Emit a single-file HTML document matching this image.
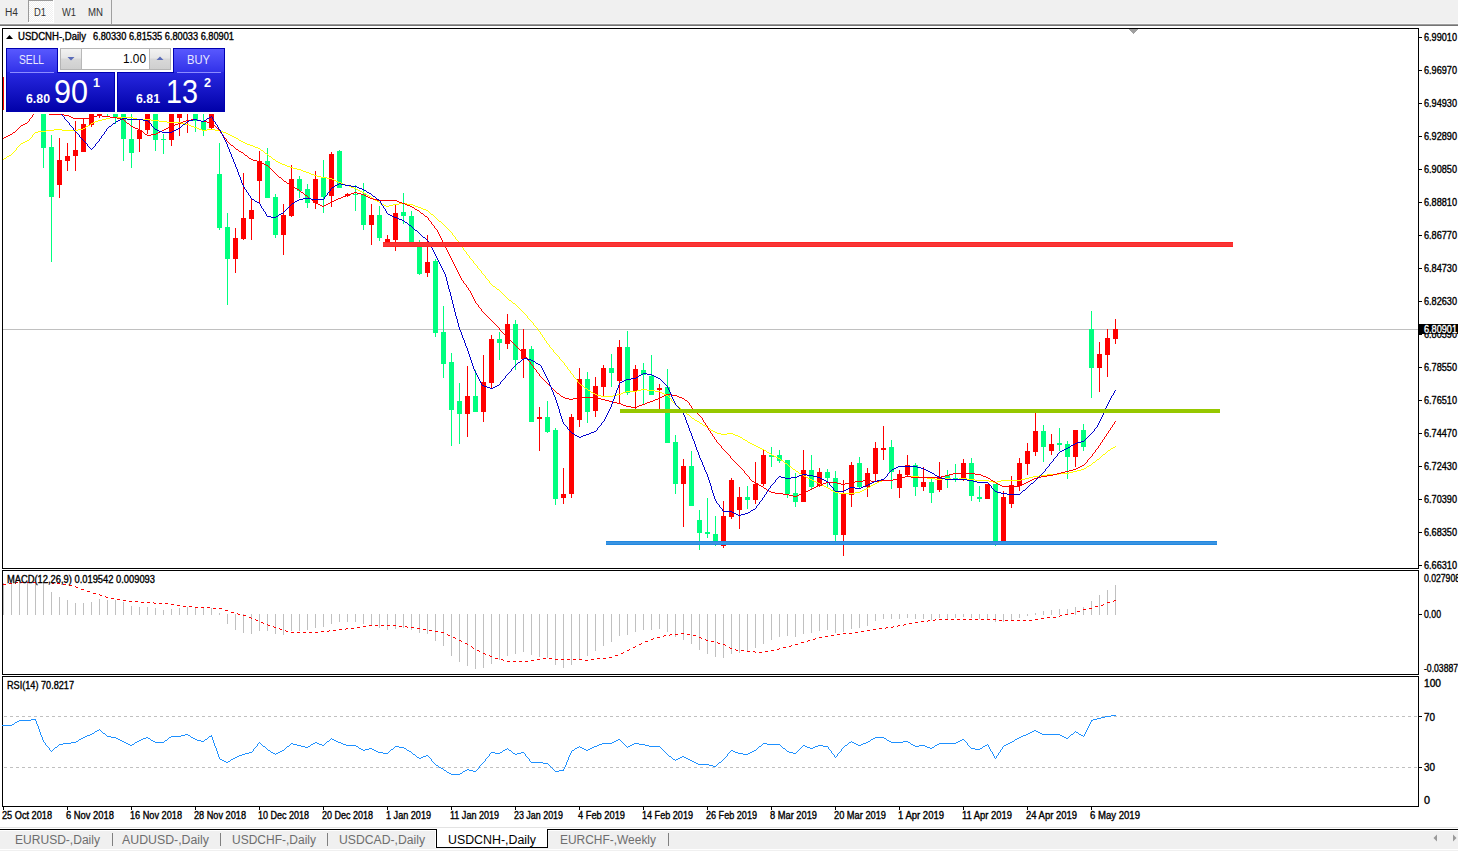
<!DOCTYPE html><html><head><meta charset="utf-8"><style>html,body{margin:0;padding:0;width:1458px;height:851px;overflow:hidden;background:#F0F0F0}</style></head><body><svg width="1458" height="851" viewBox="0 0 1458 851" style="display:block;font-family:'Liberation Sans', sans-serif">
<rect x="0" y="0" width="1458" height="851" fill="#F0F0F0" />
<rect x="0" y="23" width="1458" height="1" fill="#F6F6F6" />
<rect x="0" y="24" width="1458" height="1" fill="#9C9C9C" />
<rect x="0" y="25" width="1458" height="1" fill="#747474" />
<rect x="0" y="26" width="1458" height="801" fill="#FFFFFF" />
<rect x="0" y="827" width="1458" height="1" fill="#E3E3E3" />
<rect x="0" y="828" width="1458" height="1" fill="#FFFFFF" />
<rect x="0" y="829" width="1458" height="1" fill="#000000" />
<rect x="0" y="830" width="1458" height="1" fill="#FFFFFF" />
<rect x="0" y="849" width="1458" height="1" fill="#FFFFFF" />
<defs><pattern id="chk" width="2" height="2" patternUnits="userSpaceOnUse"><rect width="2" height="2" fill="#F0F0F0"/><rect width="1" height="1" fill="#FFFFFF"/><rect x="1" y="1" width="1" height="1" fill="#FFFFFF"/></pattern></defs>
<rect x="28" y="0" width="26" height="23" fill="#FFFFFF" />
<rect x="29" y="1" width="24" height="21" fill="url(#chk)" />
<rect x="28" y="0" width="1" height="22" fill="#9A9A9A" />
<rect x="28" y="0" width="25" height="1" fill="#9A9A9A" />
<rect x="111" y="0" width="1" height="24" fill="#A0A0A0" />
<text x="5" y="16" font-size="10" fill="#333" font-weight="normal" text-anchor="start" textLength="13" lengthAdjust="spacingAndGlyphs" >H4</text>
<text x="34" y="16" font-size="10" fill="#333" font-weight="normal" text-anchor="start" textLength="12" lengthAdjust="spacingAndGlyphs" >D1</text>
<text x="62" y="16" font-size="10" fill="#333" font-weight="normal" text-anchor="start" textLength="14" lengthAdjust="spacingAndGlyphs" >W1</text>
<text x="88" y="16" font-size="10" fill="#333" font-weight="normal" text-anchor="start" textLength="15" lengthAdjust="spacingAndGlyphs" >MN</text>
<g shape-rendering="crispEdges">
<rect x="2" y="28" width="1417" height="1" fill="#000" />
<rect x="2" y="568" width="1417" height="1" fill="#000" />
<rect x="2" y="28" width="1" height="541" fill="#000" />
<rect x="1418" y="28" width="1" height="541" fill="#000" />
<rect x="2" y="570" width="1417" height="1" fill="#000" />
<rect x="2" y="674" width="1417" height="1" fill="#000" />
<rect x="2" y="570" width="1" height="105" fill="#000" />
<rect x="1418" y="570" width="1" height="105" fill="#000" />
<rect x="2" y="676" width="1417" height="1" fill="#000" />
<rect x="2" y="806" width="1417" height="1" fill="#000" />
<rect x="2" y="676" width="1" height="131" fill="#000" />
<rect x="1418" y="676" width="1" height="131" fill="#000" />
<polygon points="1129,29 1138,29 1133.5,34" fill="#A0A0A0"/>
<rect x="1419" y="37" width="3" height="1" fill="#000" />
<text x="1424" y="41" font-size="10" fill="#000" font-weight="normal" text-anchor="start" textLength="33" lengthAdjust="spacingAndGlyphs"  stroke="#000" stroke-width="0.35">6.99010</text>
<rect x="1419" y="70" width="3" height="1" fill="#000" />
<text x="1424" y="74" font-size="10" fill="#000" font-weight="normal" text-anchor="start" textLength="33" lengthAdjust="spacingAndGlyphs"  stroke="#000" stroke-width="0.35">6.96970</text>
<rect x="1419" y="103" width="3" height="1" fill="#000" />
<text x="1424" y="107" font-size="10" fill="#000" font-weight="normal" text-anchor="start" textLength="33" lengthAdjust="spacingAndGlyphs"  stroke="#000" stroke-width="0.35">6.94930</text>
<rect x="1419" y="136" width="3" height="1" fill="#000" />
<text x="1424" y="140" font-size="10" fill="#000" font-weight="normal" text-anchor="start" textLength="33" lengthAdjust="spacingAndGlyphs"  stroke="#000" stroke-width="0.35">6.92890</text>
<rect x="1419" y="169" width="3" height="1" fill="#000" />
<text x="1424" y="173" font-size="10" fill="#000" font-weight="normal" text-anchor="start" textLength="33" lengthAdjust="spacingAndGlyphs"  stroke="#000" stroke-width="0.35">6.90850</text>
<rect x="1419" y="202" width="3" height="1" fill="#000" />
<text x="1424" y="206" font-size="10" fill="#000" font-weight="normal" text-anchor="start" textLength="33" lengthAdjust="spacingAndGlyphs"  stroke="#000" stroke-width="0.35">6.88810</text>
<rect x="1419" y="235" width="3" height="1" fill="#000" />
<text x="1424" y="239" font-size="10" fill="#000" font-weight="normal" text-anchor="start" textLength="33" lengthAdjust="spacingAndGlyphs"  stroke="#000" stroke-width="0.35">6.86770</text>
<rect x="1419" y="268" width="3" height="1" fill="#000" />
<text x="1424" y="272" font-size="10" fill="#000" font-weight="normal" text-anchor="start" textLength="33" lengthAdjust="spacingAndGlyphs"  stroke="#000" stroke-width="0.35">6.84730</text>
<rect x="1419" y="301" width="3" height="1" fill="#000" />
<text x="1424" y="305" font-size="10" fill="#000" font-weight="normal" text-anchor="start" textLength="33" lengthAdjust="spacingAndGlyphs"  stroke="#000" stroke-width="0.35">6.82630</text>
<rect x="1419" y="334" width="3" height="1" fill="#000" />
<text x="1424" y="338" font-size="10" fill="#000" font-weight="normal" text-anchor="start" textLength="33" lengthAdjust="spacingAndGlyphs"  stroke="#000" stroke-width="0.35">6.80590</text>
<rect x="1419" y="367" width="3" height="1" fill="#000" />
<text x="1424" y="371" font-size="10" fill="#000" font-weight="normal" text-anchor="start" textLength="33" lengthAdjust="spacingAndGlyphs"  stroke="#000" stroke-width="0.35">6.78550</text>
<rect x="1419" y="400" width="3" height="1" fill="#000" />
<text x="1424" y="404" font-size="10" fill="#000" font-weight="normal" text-anchor="start" textLength="33" lengthAdjust="spacingAndGlyphs"  stroke="#000" stroke-width="0.35">6.76510</text>
<rect x="1419" y="433" width="3" height="1" fill="#000" />
<text x="1424" y="437" font-size="10" fill="#000" font-weight="normal" text-anchor="start" textLength="33" lengthAdjust="spacingAndGlyphs"  stroke="#000" stroke-width="0.35">6.74470</text>
<rect x="1419" y="466" width="3" height="1" fill="#000" />
<text x="1424" y="470" font-size="10" fill="#000" font-weight="normal" text-anchor="start" textLength="33" lengthAdjust="spacingAndGlyphs"  stroke="#000" stroke-width="0.35">6.72430</text>
<rect x="1419" y="499" width="3" height="1" fill="#000" />
<text x="1424" y="503" font-size="10" fill="#000" font-weight="normal" text-anchor="start" textLength="33" lengthAdjust="spacingAndGlyphs"  stroke="#000" stroke-width="0.35">6.70390</text>
<rect x="1419" y="532" width="3" height="1" fill="#000" />
<text x="1424" y="536" font-size="10" fill="#000" font-weight="normal" text-anchor="start" textLength="33" lengthAdjust="spacingAndGlyphs"  stroke="#000" stroke-width="0.35">6.68350</text>
<rect x="1419" y="565" width="3" height="1" fill="#000" />
<text x="1424" y="569" font-size="10" fill="#000" font-weight="normal" text-anchor="start" textLength="33" lengthAdjust="spacingAndGlyphs"  stroke="#000" stroke-width="0.35">6.66310</text>
<rect x="3" y="329" width="1415" height="1" fill="#C0C0C0" />
<clipPath id="mc"><rect x="3" y="29" width="1415" height="539"/></clipPath>
<g clip-path="url(#mc)">
<rect x="3" y="77" width="1" height="33" fill="#FF0000" />
<rect x="43" y="100" width="1" height="68" fill="#00FF7F" />
<rect x="41" y="100" width="5" height="48" fill="#00FF7F" />
<rect x="51" y="135" width="1" height="127" fill="#00FF7F" />
<rect x="49" y="147" width="5" height="50" fill="#00FF7F" />
<rect x="59" y="138" width="1" height="60" fill="#FF0000" />
<rect x="57" y="160" width="5" height="25" fill="#FF0000" />
<rect x="67" y="143" width="1" height="28" fill="#FF0000" />
<rect x="65" y="156" width="5" height="5" fill="#FF0000" />
<rect x="75" y="121" width="1" height="50" fill="#FF0000" />
<rect x="73" y="150" width="5" height="6" fill="#FF0000" />
<rect x="83" y="118" width="1" height="34" fill="#FF0000" />
<rect x="81" y="124" width="5" height="28" fill="#FF0000" />
<rect x="91" y="100" width="1" height="27" fill="#FF0000" />
<rect x="89" y="100" width="5" height="25" fill="#FF0000" />
<rect x="99" y="113" width="1" height="5" fill="#FF0000" />
<rect x="97" y="114" width="5" height="2" fill="#FF0000" />
<rect x="107" y="100" width="1" height="17" fill="#00FF7F" />
<rect x="105" y="100" width="5" height="12" fill="#00FF7F" />
<rect x="115" y="100" width="1" height="24" fill="#00FF7F" />
<rect x="113" y="100" width="5" height="17" fill="#00FF7F" />
<rect x="123" y="100" width="1" height="61" fill="#00FF7F" />
<rect x="121" y="100" width="5" height="39" fill="#00FF7F" />
<rect x="131" y="100" width="1" height="68" fill="#00FF7F" />
<rect x="129" y="139" width="5" height="14" fill="#00FF7F" />
<rect x="139" y="120" width="1" height="32" fill="#FF0000" />
<rect x="137" y="130" width="5" height="9" fill="#FF0000" />
<rect x="147" y="100" width="1" height="34" fill="#FF0000" />
<rect x="145" y="100" width="5" height="30" fill="#FF0000" />
<rect x="155" y="100" width="1" height="51" fill="#00FF7F" />
<rect x="153" y="100" width="5" height="40" fill="#00FF7F" />
<rect x="163" y="134" width="1" height="20" fill="#00FF7F" />
<rect x="161" y="139" width="5" height="1" fill="#00FF7F" />
<rect x="171" y="100" width="1" height="46" fill="#FF0000" />
<rect x="169" y="100" width="5" height="40" fill="#FF0000" />
<rect x="179" y="100" width="1" height="36" fill="#FF0000" />
<rect x="177" y="100" width="5" height="18" fill="#FF0000" />
<rect x="187" y="100" width="1" height="33" fill="#FF0000" />
<rect x="185" y="100" width="5" height="12" fill="#FF0000" />
<rect x="195" y="100" width="1" height="32" fill="#00FF7F" />
<rect x="193" y="100" width="5" height="21" fill="#00FF7F" />
<rect x="203" y="100" width="1" height="36" fill="#00FF7F" />
<rect x="201" y="122" width="5" height="8" fill="#00FF7F" />
<rect x="211" y="100" width="1" height="30" fill="#FF0000" />
<rect x="209" y="100" width="5" height="28" fill="#FF0000" />
<rect x="219" y="143" width="1" height="87" fill="#00FF7F" />
<rect x="217" y="174" width="5" height="54" fill="#00FF7F" />
<rect x="227" y="213" width="1" height="92" fill="#00FF7F" />
<rect x="225" y="227" width="5" height="32" fill="#00FF7F" />
<rect x="235" y="228" width="1" height="45" fill="#FF0000" />
<rect x="233" y="238" width="5" height="21" fill="#FF0000" />
<rect x="243" y="173" width="1" height="67" fill="#FF0000" />
<rect x="241" y="218" width="5" height="21" fill="#FF0000" />
<rect x="251" y="199" width="1" height="41" fill="#FF0000" />
<rect x="249" y="210" width="5" height="9" fill="#FF0000" />
<rect x="259" y="151" width="1" height="52" fill="#FF0000" />
<rect x="257" y="161" width="5" height="20" fill="#FF0000" />
<rect x="267" y="148" width="1" height="50" fill="#00FF7F" />
<rect x="265" y="161" width="5" height="37" fill="#00FF7F" />
<rect x="275" y="194" width="1" height="44" fill="#00FF7F" />
<rect x="273" y="197" width="5" height="38" fill="#00FF7F" />
<rect x="283" y="204" width="1" height="51" fill="#FF0000" />
<rect x="281" y="215" width="5" height="20" fill="#FF0000" />
<rect x="291" y="165" width="1" height="52" fill="#FF0000" />
<rect x="289" y="179" width="5" height="37" fill="#FF0000" />
<rect x="299" y="176" width="1" height="22" fill="#00FF7F" />
<rect x="297" y="179" width="5" height="12" fill="#00FF7F" />
<rect x="307" y="184" width="1" height="24" fill="#00FF7F" />
<rect x="305" y="189" width="5" height="14" fill="#00FF7F" />
<rect x="315" y="171" width="1" height="38" fill="#FF0000" />
<rect x="313" y="179" width="5" height="24" fill="#FF0000" />
<rect x="323" y="160" width="1" height="53" fill="#00FF7F" />
<rect x="321" y="178" width="5" height="19" fill="#00FF7F" />
<rect x="331" y="152" width="1" height="55" fill="#FF0000" />
<rect x="329" y="154" width="5" height="42" fill="#FF0000" />
<rect x="339" y="150" width="1" height="38" fill="#00FF7F" />
<rect x="337" y="151" width="5" height="37" fill="#00FF7F" />
<rect x="347" y="193" width="1" height="4" fill="#FF0000" />
<rect x="345" y="194" width="5" height="2" fill="#FF0000" />
<rect x="355" y="185" width="1" height="26" fill="#00FF7F" />
<rect x="353" y="194" width="5" height="1" fill="#00FF7F" />
<rect x="363" y="183" width="1" height="47" fill="#00FF7F" />
<rect x="361" y="194" width="5" height="31" fill="#00FF7F" />
<rect x="371" y="204" width="1" height="41" fill="#FF0000" />
<rect x="369" y="215" width="5" height="10" fill="#FF0000" />
<rect x="379" y="206" width="1" height="35" fill="#00FF7F" />
<rect x="377" y="215" width="5" height="23" fill="#00FF7F" />
<rect x="387" y="235" width="1" height="12" fill="#FF0000" />
<rect x="385" y="239" width="5" height="6" fill="#FF0000" />
<rect x="395" y="205" width="1" height="46" fill="#FF0000" />
<rect x="393" y="213" width="5" height="27" fill="#FF0000" />
<rect x="403" y="193" width="1" height="31" fill="#00FF7F" />
<rect x="401" y="212" width="5" height="4" fill="#00FF7F" />
<rect x="411" y="211" width="1" height="34" fill="#00FF7F" />
<rect x="409" y="216" width="5" height="27" fill="#00FF7F" />
<rect x="419" y="240" width="1" height="35" fill="#00FF7F" />
<rect x="417" y="247" width="5" height="27" fill="#00FF7F" />
<rect x="427" y="235" width="1" height="42" fill="#FF0000" />
<rect x="425" y="262" width="5" height="11" fill="#FF0000" />
<rect x="435" y="259" width="1" height="78" fill="#00FF7F" />
<rect x="433" y="261" width="5" height="72" fill="#00FF7F" />
<rect x="443" y="306" width="1" height="72" fill="#00FF7F" />
<rect x="441" y="332" width="5" height="32" fill="#00FF7F" />
<rect x="451" y="353" width="1" height="93" fill="#00FF7F" />
<rect x="449" y="362" width="5" height="48" fill="#00FF7F" />
<rect x="459" y="383" width="1" height="61" fill="#00FF7F" />
<rect x="457" y="401" width="5" height="13" fill="#00FF7F" />
<rect x="467" y="366" width="1" height="71" fill="#FF0000" />
<rect x="465" y="396" width="5" height="18" fill="#FF0000" />
<rect x="475" y="370" width="1" height="42" fill="#00FF7F" />
<rect x="473" y="396" width="5" height="16" fill="#00FF7F" />
<rect x="483" y="355" width="1" height="67" fill="#FF0000" />
<rect x="481" y="382" width="5" height="30" fill="#FF0000" />
<rect x="491" y="335" width="1" height="53" fill="#FF0000" />
<rect x="489" y="339" width="5" height="44" fill="#FF0000" />
<rect x="499" y="332" width="1" height="28" fill="#00FF7F" />
<rect x="497" y="339" width="5" height="4" fill="#00FF7F" />
<rect x="507" y="314" width="1" height="35" fill="#FF0000" />
<rect x="505" y="324" width="5" height="20" fill="#FF0000" />
<rect x="515" y="320" width="1" height="50" fill="#00FF7F" />
<rect x="513" y="324" width="5" height="36" fill="#00FF7F" />
<rect x="523" y="329" width="1" height="49" fill="#FF0000" />
<rect x="521" y="349" width="5" height="10" fill="#FF0000" />
<rect x="531" y="346" width="1" height="76" fill="#00FF7F" />
<rect x="529" y="349" width="5" height="73" fill="#00FF7F" />
<rect x="539" y="407" width="1" height="44" fill="#FF0000" />
<rect x="537" y="417" width="5" height="2" fill="#FF0000" />
<rect x="547" y="401" width="1" height="32" fill="#00FF7F" />
<rect x="545" y="417" width="5" height="15" fill="#00FF7F" />
<rect x="555" y="428" width="1" height="77" fill="#00FF7F" />
<rect x="553" y="430" width="5" height="69" fill="#00FF7F" />
<rect x="563" y="468" width="1" height="36" fill="#FF0000" />
<rect x="561" y="494" width="5" height="4" fill="#FF0000" />
<rect x="571" y="414" width="1" height="84" fill="#FF0000" />
<rect x="569" y="417" width="5" height="77" fill="#FF0000" />
<rect x="579" y="368" width="1" height="59" fill="#FF0000" />
<rect x="577" y="379" width="5" height="41" fill="#FF0000" />
<rect x="587" y="372" width="1" height="51" fill="#00FF7F" />
<rect x="585" y="379" width="5" height="33" fill="#00FF7F" />
<rect x="595" y="377" width="1" height="40" fill="#FF0000" />
<rect x="593" y="386" width="5" height="25" fill="#FF0000" />
<rect x="603" y="365" width="1" height="31" fill="#FF0000" />
<rect x="601" y="368" width="5" height="19" fill="#FF0000" />
<rect x="611" y="354" width="1" height="33" fill="#00FF7F" />
<rect x="609" y="368" width="5" height="5" fill="#00FF7F" />
<rect x="619" y="340" width="1" height="64" fill="#FF0000" />
<rect x="617" y="347" width="5" height="34" fill="#FF0000" />
<rect x="627" y="331" width="1" height="64" fill="#00FF7F" />
<rect x="625" y="347" width="5" height="46" fill="#00FF7F" />
<rect x="635" y="365" width="1" height="44" fill="#FF0000" />
<rect x="633" y="369" width="5" height="22" fill="#FF0000" />
<rect x="643" y="363" width="1" height="42" fill="#00FF7F" />
<rect x="641" y="370" width="5" height="5" fill="#00FF7F" />
<rect x="651" y="355" width="1" height="40" fill="#00FF7F" />
<rect x="649" y="376" width="5" height="19" fill="#00FF7F" />
<rect x="659" y="384" width="1" height="25" fill="#FF0000" />
<rect x="657" y="388" width="5" height="2" fill="#FF0000" />
<rect x="667" y="369" width="1" height="74" fill="#00FF7F" />
<rect x="665" y="387" width="5" height="56" fill="#00FF7F" />
<rect x="675" y="435" width="1" height="59" fill="#00FF7F" />
<rect x="673" y="442" width="5" height="42" fill="#00FF7F" />
<rect x="683" y="459" width="1" height="68" fill="#FF0000" />
<rect x="681" y="466" width="5" height="18" fill="#FF0000" />
<rect x="691" y="451" width="1" height="55" fill="#00FF7F" />
<rect x="689" y="466" width="5" height="40" fill="#00FF7F" />
<rect x="699" y="510" width="1" height="40" fill="#00FF7F" />
<rect x="697" y="520" width="5" height="13" fill="#00FF7F" />
<rect x="707" y="498" width="1" height="40" fill="#00FF7F" />
<rect x="705" y="532" width="5" height="2" fill="#00FF7F" />
<rect x="715" y="516" width="1" height="30" fill="#00FF7F" />
<rect x="713" y="534" width="5" height="7" fill="#00FF7F" />
<rect x="723" y="501" width="1" height="47" fill="#FF0000" />
<rect x="721" y="516" width="5" height="30" fill="#FF0000" />
<rect x="731" y="478" width="1" height="41" fill="#FF0000" />
<rect x="729" y="480" width="5" height="37" fill="#FF0000" />
<rect x="739" y="487" width="1" height="42" fill="#FF0000" />
<rect x="737" y="497" width="5" height="13" fill="#FF0000" />
<rect x="747" y="486" width="1" height="23" fill="#00FF7F" />
<rect x="745" y="497" width="5" height="3" fill="#00FF7F" />
<rect x="755" y="462" width="1" height="42" fill="#FF0000" />
<rect x="753" y="484" width="5" height="16" fill="#FF0000" />
<rect x="763" y="450" width="1" height="36" fill="#FF0000" />
<rect x="761" y="455" width="5" height="29" fill="#FF0000" />
<rect x="771" y="447" width="1" height="20" fill="#00FF7F" />
<rect x="769" y="455" width="5" height="2" fill="#00FF7F" />
<rect x="779" y="450" width="1" height="13" fill="#00FF7F" />
<rect x="777" y="455" width="5" height="6" fill="#00FF7F" />
<rect x="787" y="460" width="1" height="38" fill="#00FF7F" />
<rect x="785" y="460" width="5" height="34" fill="#00FF7F" />
<rect x="795" y="473" width="1" height="34" fill="#00FF7F" />
<rect x="793" y="493" width="5" height="9" fill="#00FF7F" />
<rect x="803" y="450" width="1" height="52" fill="#FF0000" />
<rect x="801" y="470" width="5" height="32" fill="#FF0000" />
<rect x="811" y="455" width="1" height="35" fill="#00FF7F" />
<rect x="809" y="470" width="5" height="17" fill="#00FF7F" />
<rect x="819" y="468" width="1" height="19" fill="#FF0000" />
<rect x="817" y="472" width="5" height="14" fill="#FF0000" />
<rect x="827" y="469" width="1" height="19" fill="#00FF7F" />
<rect x="825" y="472" width="5" height="6" fill="#00FF7F" />
<rect x="835" y="471" width="1" height="70" fill="#00FF7F" />
<rect x="833" y="478" width="5" height="57" fill="#00FF7F" />
<rect x="843" y="480" width="1" height="76" fill="#FF0000" />
<rect x="841" y="493" width="5" height="42" fill="#FF0000" />
<rect x="851" y="462" width="1" height="45" fill="#FF0000" />
<rect x="849" y="465" width="5" height="30" fill="#FF0000" />
<rect x="859" y="457" width="1" height="31" fill="#00FF7F" />
<rect x="857" y="463" width="5" height="24" fill="#00FF7F" />
<rect x="867" y="468" width="1" height="29" fill="#FF0000" />
<rect x="865" y="473" width="5" height="14" fill="#FF0000" />
<rect x="875" y="442" width="1" height="39" fill="#FF0000" />
<rect x="873" y="448" width="5" height="26" fill="#FF0000" />
<rect x="883" y="426" width="1" height="34" fill="#FF0000" />
<rect x="881" y="448" width="5" height="2" fill="#FF0000" />
<rect x="891" y="440" width="1" height="49" fill="#00FF7F" />
<rect x="889" y="447" width="5" height="25" fill="#00FF7F" />
<rect x="899" y="470" width="1" height="28" fill="#FF0000" />
<rect x="897" y="474" width="5" height="14" fill="#FF0000" />
<rect x="907" y="455" width="1" height="21" fill="#FF0000" />
<rect x="905" y="465" width="5" height="10" fill="#FF0000" />
<rect x="915" y="463" width="1" height="33" fill="#00FF7F" />
<rect x="913" y="465" width="5" height="22" fill="#00FF7F" />
<rect x="923" y="467" width="1" height="24" fill="#FF0000" />
<rect x="921" y="482" width="5" height="5" fill="#FF0000" />
<rect x="931" y="479" width="1" height="24" fill="#00FF7F" />
<rect x="929" y="482" width="5" height="11" fill="#00FF7F" />
<rect x="939" y="462" width="1" height="30" fill="#FF0000" />
<rect x="937" y="477" width="5" height="13" fill="#FF0000" />
<rect x="947" y="470" width="1" height="18" fill="#00FF7F" />
<rect x="945" y="475" width="5" height="4" fill="#00FF7F" />
<rect x="955" y="464" width="1" height="18" fill="#00FF7F" />
<rect x="953" y="478" width="5" height="1" fill="#00FF7F" />
<rect x="963" y="459" width="1" height="22" fill="#FF0000" />
<rect x="961" y="463" width="5" height="17" fill="#FF0000" />
<rect x="971" y="458" width="1" height="43" fill="#00FF7F" />
<rect x="969" y="463" width="5" height="33" fill="#00FF7F" />
<rect x="979" y="486" width="1" height="16" fill="#00FF7F" />
<rect x="977" y="497" width="5" height="2" fill="#00FF7F" />
<rect x="987" y="484" width="1" height="15" fill="#FF0000" />
<rect x="985" y="484" width="5" height="15" fill="#FF0000" />
<rect x="995" y="484" width="1" height="62" fill="#00FF7F" />
<rect x="993" y="484" width="5" height="57" fill="#00FF7F" />
<rect x="1003" y="491" width="1" height="50" fill="#FF0000" />
<rect x="1001" y="497" width="5" height="44" fill="#FF0000" />
<rect x="1011" y="476" width="1" height="32" fill="#FF0000" />
<rect x="1009" y="485" width="5" height="19" fill="#FF0000" />
<rect x="1019" y="458" width="1" height="33" fill="#FF0000" />
<rect x="1017" y="463" width="5" height="23" fill="#FF0000" />
<rect x="1027" y="443" width="1" height="32" fill="#FF0000" />
<rect x="1025" y="451" width="5" height="13" fill="#FF0000" />
<rect x="1035" y="413" width="1" height="43" fill="#FF0000" />
<rect x="1033" y="431" width="5" height="21" fill="#FF0000" />
<rect x="1043" y="425" width="1" height="37" fill="#00FF7F" />
<rect x="1041" y="431" width="5" height="16" fill="#00FF7F" />
<rect x="1051" y="434" width="1" height="21" fill="#FF0000" />
<rect x="1049" y="444" width="5" height="7" fill="#FF0000" />
<rect x="1059" y="428" width="1" height="23" fill="#00FF7F" />
<rect x="1057" y="443" width="5" height="2" fill="#00FF7F" />
<rect x="1067" y="441" width="1" height="38" fill="#00FF7F" />
<rect x="1065" y="444" width="5" height="13" fill="#00FF7F" />
<rect x="1075" y="430" width="1" height="37" fill="#FF0000" />
<rect x="1073" y="430" width="5" height="27" fill="#FF0000" />
<rect x="1083" y="424" width="1" height="27" fill="#00FF7F" />
<rect x="1081" y="430" width="5" height="17" fill="#00FF7F" />
<rect x="1091" y="311" width="1" height="87" fill="#00FF7F" />
<rect x="1089" y="329" width="5" height="39" fill="#00FF7F" />
<rect x="1099" y="342" width="1" height="50" fill="#FF0000" />
<rect x="1097" y="354" width="5" height="14" fill="#FF0000" />
<rect x="1107" y="329" width="1" height="48" fill="#FF0000" />
<rect x="1105" y="338" width="5" height="17" fill="#FF0000" />
<rect x="1115" y="319" width="1" height="25" fill="#FF0000" />
<rect x="1113" y="329" width="5" height="10" fill="#FF0000" />
</g>
</g>
<g clip-path="url(#mc)">
<path d="M590,391h1v1h-1zM626,391h11v1h-11zM655,391h5v1h-5zM86,126h2v1h-2zM191,126h3v1h-3zM804,476h2v1h-2zM905,476h14v1h-14zM1033,476h6v1h-6zM781,460h2v1h-2zM1096,460h1v1h-1zM282,164h3v1h-3zM577,380h1v1h-1zM110,117h23v1h-23zM102,119h4v1h-4zM137,119h14v1h-14zM597,395h4v1h-4zM613,395h4v1h-4zM666,395h2v1h-2zM95,121h3v1h-3zM159,121h8v1h-8zM46,130h8v1h-8zM62,130h16v1h-16zM202,130h5v1h-5zM215,130h6v1h-6zM3,159h1v1h-1zM273,159h2v1h-2zM527,317h1v1h-1zM812,480h2v1h-2zM882,480h11v1h-11zM975,480h14v1h-14zM1001,480h20v1h-20zM98,120h4v1h-4zM151,120h8v1h-8zM93,122h2v1h-2zM167,122h14v1h-14zM601,396h12v1h-12zM668,396h1v1h-1zM810,479h2v1h-2zM893,479h4v1h-4zM935,479h8v1h-8zM951,479h8v1h-8zM967,479h8v1h-8zM1021,479h4v1h-4zM591,392h2v1h-2zM623,392h3v1h-3zM660,392h2v1h-2zM788,465h1v1h-1zM1089,465h2v1h-2zM501,292h1v1h-1zM7,156h2v1h-2zM269,156h2v1h-2zM595,394h2v1h-2zM617,394h4v1h-4zM664,394h2v1h-2zM808,478h2v1h-2zM897,478h4v1h-4zM927,478h8v1h-8zM943,478h8v1h-8zM959,478h8v1h-8zM1025,478h4v1h-4zM321,177h6v1h-6zM4,158h2v1h-2zM272,158h1v1h-1zM593,393h2v1h-2zM621,393h2v1h-2zM662,393h2v1h-2zM54,129h8v1h-8zM78,129h5v1h-5zM199,129h3v1h-3zM207,129h8v1h-8zM534,325h1v1h-1zM384,205h2v1h-2zM389,205h4v1h-4zM413,205h2v1h-2zM386,206h3v1h-3zM415,206h3v1h-3zM566,366h1v1h-1zM803,475h1v1h-1zM1039,475h8v1h-8zM717,433h4v1h-4zM727,433h6v1h-6zM430,213h1v1h-1zM293,168h4v1h-4zM34,133h1v1h-1zM226,133h2v1h-2zM567,367h1v1h-1zM818,483h2v1h-2zM875,483h2v1h-2zM721,434h6v1h-6zM733,434h2v1h-2zM570,372h1v1h-1zM508,299h1v1h-1zM705,426h2v1h-2zM471,259h1v1h-1zM828,488h2v1h-2zM866,488h2v1h-2zM519,308h1v1h-1zM548,344h1v1h-1zM839,493h16v1h-16zM771,454h1v1h-1zM1103,454h2v1h-2zM297,169h4v1h-4zM795,470h1v1h-1zM1077,470h4v1h-4zM423,209h3v1h-3zM822,485h2v1h-2zM871,485h2v1h-2zM756,446h2v1h-2zM1115,446h1v1h-1zM91,123h2v1h-2zM181,123h4v1h-4zM380,203h2v1h-2zM399,203h8v1h-8zM776,457h2v1h-2zM1100,457h1v1h-1zM835,492h4v1h-4zM855,492h5v1h-5zM9,155h2v1h-2zM268,155h1v1h-1zM83,128h2v1h-2zM197,128h2v1h-2zM820,484h2v1h-2zM873,484h2v1h-2zM482,273h1v1h-1zM38,131h8v1h-8zM221,131h2v1h-2zM801,474h2v1h-2zM1047,474h12v1h-12zM497,289h2v1h-2zM708,428h2v1h-2zM25,141h2v1h-2zM241,141h2v1h-2zM750,443h2v1h-2zM814,481h2v1h-2zM879,481h3v1h-3zM989,481h4v1h-4zM997,481h4v1h-4zM743,439h2v1h-2zM559,358h1v1h-1zM418,207h3v1h-3zM460,245h1v1h-1zM377,201h2v1h-2zM489,281h1v1h-1zM824,486h2v1h-2zM870,486h1v1h-1zM799,473h2v1h-2zM1059,473h10v1h-10zM816,482h2v1h-2zM877,482h2v1h-2zM993,482h4v1h-4zM441,222h1v1h-1zM745,440h2v1h-2zM738,436h2v1h-2zM584,387h1v1h-1zM18,146h1v1h-1zM253,146h2v1h-2zM533,323h1v1h-1zM806,477h2v1h-2zM901,477h4v1h-4zM919,477h8v1h-8zM1029,477h4v1h-4zM747,441h1v1h-1zM585,388h2v1h-2zM518,307h1v1h-1zM537,329h1v1h-1zM783,461h1v1h-1zM1095,461h1v1h-1zM496,288h1v1h-1zM831,490h2v1h-2zM862,490h2v1h-2zM766,451h1v1h-1zM1107,451h1v1h-1zM588,390h2v1h-2zM637,390h4v1h-4zM647,390h8v1h-8zM742,438h1v1h-1zM448,229h1v1h-1zM784,462h1v1h-1zM1093,462h2v1h-2zM760,448h2v1h-2zM1111,448h2v1h-2zM735,435h3v1h-3zM306,172h3v1h-3zM327,178h5v1h-5zM481,271h1v1h-1zM525,314h1v1h-1zM455,237h1v1h-1zM21,143h2v1h-2zM245,143h2v1h-2zM426,210h2v1h-2zM382,204h2v1h-2zM393,204h6v1h-6zM407,204h6v1h-6zM375,200h2v1h-2zM526,315h1v1h-1zM780,459h1v1h-1zM1097,459h2v1h-2zM558,356h1v1h-1zM459,243h1v1h-1zM700,423h2v1h-2zM301,170h2v1h-2zM35,132h3v1h-3zM223,132h3v1h-3zM559,357h1v1h-1zM671,400h1v1h-1zM681,409h2v1h-2zM369,196h2v1h-2zM492,285h1v1h-1zM13,152h1v1h-1zM264,152h1v1h-1zM569,370h1v1h-1zM421,208h2v1h-2zM473,262h1v1h-1zM90,124h1v1h-1zM185,124h4v1h-4zM338,182h3v1h-3zM311,174h3v1h-3zM697,421h2v1h-2zM573,376h1v1h-1zM474,263h1v1h-1zM332,179h2v1h-2zM303,171h3v1h-3zM372,198h2v1h-2zM480,270h1v1h-1zM437,219h1v1h-1zM826,487h2v1h-2zM868,487h2v1h-2zM551,348h1v1h-1zM580,384h1v1h-1zM334,180h2v1h-2zM796,471h2v1h-2zM1073,471h4v1h-4zM513,303h2v1h-2zM798,472h1v1h-1zM1069,472h4v1h-4zM502,293h1v1h-1zM309,173h2v1h-2zM343,184h3v1h-3zM778,458h2v1h-2zM1099,458h1v1h-1zM106,118h4v1h-4zM133,118h4v1h-4zM463,249h1v1h-1zM16,149h1v1h-1zM260,149h1v1h-1zM503,294h1v1h-1zM14,151h1v1h-1zM263,151h1v1h-1zM33,134h1v1h-1zM228,134h2v1h-2zM772,455h2v1h-2zM1102,455h1v1h-1zM670,398h1v1h-1zM793,469h2v1h-2zM1081,469h3v1h-3zM346,185h3v1h-3zM536,327h1v1h-1zM692,418h2v1h-2zM671,399h1v1h-1zM16,148h1v1h-1zM258,148h2v1h-2zM789,466h2v1h-2zM1087,466h2v1h-2zM550,347h1v1h-1zM774,456h2v1h-2zM1101,456h1v1h-1zM317,176h4v1h-4zM767,452h2v1h-2zM1106,452h1v1h-1zM27,140h2v1h-2zM239,140h2v1h-2zM17,147h1v1h-1zM255,147h3v1h-3zM715,432h2v1h-2zM473,261h1v1h-1zM278,162h2v1h-2zM20,144h1v1h-1zM247,144h3v1h-3zM341,183h2v1h-2zM833,491h2v1h-2zM860,491h2v1h-2zM677,406h2v1h-2zM830,489h1v1h-1zM864,489h2v1h-2zM364,193h2v1h-2zM528,318h1v1h-1zM356,189h2v1h-2zM19,145h1v1h-1zM250,145h3v1h-3zM458,241h1v1h-1zM367,195h2v1h-2zM711,430h2v1h-2zM461,246h1v1h-1zM285,165h2v1h-2zM314,175h3v1h-3zM529,319h1v1h-1zM349,186h2v1h-2zM561,360h1v1h-1zM30,138h1v1h-1zM236,138h2v1h-2zM462,247h1v1h-1zM535,326h1v1h-1zM287,166h3v1h-3zM32,135h1v1h-1zM230,135h2v1h-2zM360,191h2v1h-2zM351,187h3v1h-3zM758,447h2v1h-2zM1113,447h2v1h-2zM290,167h3v1h-3zM444,225h1v1h-1zM354,188h2v1h-2zM509,300h2v1h-2zM520,309h1v1h-1zM549,345h1v1h-1zM32,136h1v1h-1zM232,136h2v1h-2zM23,142h2v1h-2zM243,142h2v1h-2zM521,310h1v1h-1zM85,127h1v1h-1zM194,127h3v1h-3zM483,274h1v1h-1zM710,429h1v1h-1zM484,275h1v1h-1zM762,449h2v1h-2zM1110,449h1v1h-1zM754,445h2v1h-2zM442,223h1v1h-1zM703,425h2v1h-2zM571,373h1v1h-1zM713,431h2v1h-2zM587,389h1v1h-1zM641,389h6v1h-6zM443,224h1v1h-1zM472,260h1v1h-1zM673,402h1v1h-1zM748,442h2v1h-2zM431,214h2v1h-2zM572,374h1v1h-1zM553,351h1v1h-1zM792,468h1v1h-1zM1084,468h2v1h-2zM687,414h2v1h-2zM449,230h1v1h-1zM707,427h1v1h-1zM752,444h2v1h-2zM450,231h1v1h-1zM527,316h1v1h-1zM560,359h1v1h-1zM15,150h1v1h-1zM261,150h2v1h-2zM465,251h1v1h-1zM672,401h1v1h-1zM538,330h1v1h-1zM740,437h2v1h-2zM12,153h1v1h-1zM265,153h2v1h-2zM570,371h1v1h-1zM684,411h1v1h-1zM785,463h2v1h-2zM1092,463h1v1h-1zM542,336h1v1h-1zM475,264h1v1h-1zM552,349h1v1h-1zM374,199h1v1h-1zM553,350h1v1h-1zM438,220h1v1h-1zM486,278h1v1h-1zM336,181h2v1h-2zM699,422h1v1h-1zM764,450h2v1h-2zM1108,450h2v1h-2zM88,125h2v1h-2zM189,125h2v1h-2zM460,244h1v1h-1zM702,424h1v1h-1zM439,221h2v1h-2zM683,410h1v1h-1zM694,419h1v1h-1zM464,250h1v1h-1zM493,286h2v1h-2zM504,295h1v1h-1zM695,420h2v1h-2zM505,296h1v1h-1zM537,328h1v1h-1zM574,377h1v1h-1zM581,385h2v1h-2zM452,234h1v1h-1zM485,277h1v1h-1zM523,312h1v1h-1zM453,235h1v1h-1zM679,407h1v1h-1zM515,304h1v1h-1zM680,408h1v1h-1zM530,320h1v1h-1zM540,333h1v1h-1zM563,362h1v1h-1zM362,192h2v1h-2zM541,334h1v1h-1zM544,339h1v1h-1zM573,375h1v1h-1zM6,157h1v1h-1zM271,157h1v1h-1zM445,226h1v1h-1zM31,137h1v1h-1zM234,137h2v1h-2zM577,381h1v1h-1zM478,268h1v1h-1zM690,416h1v1h-1zM366,194h1v1h-1zM358,190h2v1h-2zM511,301h1v1h-1zM452,233h1v1h-1zM769,453h2v1h-2zM1105,453h1v1h-1zM485,276h1v1h-1zM562,361h1v1h-1zM29,139h1v1h-1zM238,139h1v1h-1zM463,248h1v1h-1zM280,163h2v1h-2zM466,253h1v1h-1zM791,467h1v1h-1zM1086,467h1v1h-1zM467,254h1v1h-1zM275,160h1v1h-1zM477,267h1v1h-1zM674,403h1v1h-1zM540,332h1v1h-1zM276,161h2v1h-2zM433,215h1v1h-1zM522,311h1v1h-1zM675,404h1v1h-1zM686,413h1v1h-1zM554,352h1v1h-1zM434,216h1v1h-1zM544,338h1v1h-1zM689,415h1v1h-1zM555,353h1v1h-1zM499,290h1v1h-1zM456,239h1v1h-1zM489,282h1v1h-1zM500,291h1v1h-1zM533,324h1v1h-1zM565,365h1v1h-1zM466,252h1v1h-1zM506,297h1v1h-1zM539,331h1v1h-1zM507,298h1v1h-1zM477,266h1v1h-1zM451,232h1v1h-1zM787,464h1v1h-1zM1091,464h1v1h-1zM481,272h1v1h-1zM455,238h1v1h-1zM487,279h1v1h-1zM428,211h1v1h-1zM488,280h1v1h-1zM429,212h1v1h-1zM379,202h1v1h-1zM469,257h1v1h-1zM532,322h1v1h-1zM685,412h1v1h-1zM470,258h1v1h-1zM543,337h1v1h-1zM575,378h1v1h-1zM476,265h1v1h-1zM495,287h1v1h-1zM547,343h1v1h-1zM576,379h1v1h-1zM11,154h1v1h-1zM267,154h1v1h-1zM454,236h1v1h-1zM564,364h1v1h-1zM583,386h1v1h-1zM516,305h1v1h-1zM517,306h1v1h-1zM546,342h1v1h-1zM469,256h1v1h-1zM371,197h1v1h-1zM542,335h1v1h-1zM435,217h1v1h-1zM447,228h1v1h-1zM524,313h1v1h-1zM436,218h1v1h-1zM691,417h1v1h-1zM557,355h1v1h-1zM458,242h1v1h-1zM490,283h1v1h-1zM531,321h1v1h-1zM491,284h1v1h-1zM564,363h1v1h-1zM468,255h1v1h-1zM545,340h1v1h-1zM446,227h1v1h-1zM568,369h1v1h-1zM546,341h1v1h-1zM549,346h1v1h-1zM578,382h1v1h-1zM479,269h1v1h-1zM579,383h1v1h-1zM512,302h1v1h-1zM556,354h1v1h-1zM457,240h1v1h-1zM567,368h1v1h-1zM669,397h1v1h-1zM676,405h1v1h-1z" fill="#FFFF00"/>
<path d="M6,136h2v1h-2zM13,132h2v1h-2zM4,137h2v1h-2zM32,116h1v1h-1zM3,138h1v1h-1zM35,112h1v1h-1zM25,123h2v1h-2zM10,134h2v1h-2zM23,124h2v1h-2zM29,120h1v1h-1zM34,113h1v1h-1zM21,125h2v1h-2zM31,117h1v1h-1zM20,126h1v1h-1zM27,122h1v1h-1zM28,121h1v1h-1zM30,118h1v1h-1zM32,115h1v1h-1zM33,114h1v1h-1zM19,127h1v1h-1zM8,135h2v1h-2zM29,119h1v1h-1zM18,128h1v1h-1zM12,133h1v1h-1zM17,129h1v1h-1zM16,130h1v1h-1zM15,131h1v1h-1zM36,111h1v1h-1z" fill="#FF0000"/>
<path d="M503,333h1v1h-1zM750,479h1v1h-1zM893,479h4v1h-4zM990,479h1v1h-1zM1032,479h2v1h-2zM745,473h1v1h-1zM953,473h22v1h-22zM1057,473h4v1h-4zM747,475h1v1h-1zM945,475h4v1h-4zM981,475h2v1h-2zM1047,475h6v1h-6zM260,162h2v1h-2zM124,120h1v1h-1zM186,120h5v1h-5zM197,120h4v1h-4zM699,415h1v1h-1zM748,476h1v1h-1zM905,476h6v1h-6zM941,476h4v1h-4zM983,476h3v1h-3zM1041,476h6v1h-6zM754,482h2v1h-2zM826,482h11v1h-11zM849,482h6v1h-6zM995,482h1v1h-1zM1026,482h2v1h-2zM565,398h4v1h-4zM573,398h4v1h-4zM597,398h4v1h-4zM658,398h2v1h-2zM682,398h2v1h-2zM783,494h6v1h-6zM799,494h3v1h-3zM73,118h18v1h-18zM117,118h4v1h-4zM307,196h1v1h-1zM343,196h3v1h-3zM366,196h2v1h-2zM488,317h1v1h-1zM140,130h1v1h-1zM162,130h2v1h-2zM219,130h1v1h-1zM125,121h1v1h-1zM183,121h3v1h-3zM201,121h6v1h-6zM448,253h1v1h-1zM563,397h2v1h-2zM577,397h20v1h-20zM660,397h2v1h-2zM679,397h3v1h-3zM245,155h2v1h-2zM569,399h4v1h-4zM601,399h4v1h-4zM655,399h3v1h-3zM684,399h1v1h-1zM749,477h1v1h-1zM901,477h4v1h-4zM911,477h30v1h-30zM986,477h2v1h-2zM1037,477h4v1h-4zM746,474h1v1h-1zM949,474h4v1h-4zM975,474h6v1h-6zM1053,474h4v1h-4zM135,128h3v1h-3zM166,128h2v1h-2zM217,128h1v1h-1zM751,480h1v1h-1zM863,480h8v1h-8zM879,480h14v1h-14zM991,480h2v1h-2zM1030,480h2v1h-2zM276,174h1v1h-1zM489,318h1v1h-1zM739,466h1v1h-1zM1080,466h2v1h-2zM631,407h6v1h-6zM691,407h1v1h-1zM719,444h1v1h-1zM1100,444h1v1h-1zM287,183h2v1h-2zM309,198h2v1h-2zM338,198h3v1h-3zM370,198h3v1h-3zM227,141h1v1h-1zM247,156h1v1h-1zM423,214h1v1h-1zM752,481h2v1h-2zM855,481h8v1h-8zM871,481h8v1h-8zM993,481h2v1h-2zM1028,481h2v1h-2zM761,486h2v1h-2zM816,486h2v1h-2zM1002,486h18v1h-18zM425,216h2v1h-2zM766,489h1v1h-1zM810,489h2v1h-2zM613,402h4v1h-4zM647,402h3v1h-3zM688,402h1v1h-1zM617,403h4v1h-4zM645,403h2v1h-2zM689,403h1v1h-1zM228,142h1v1h-1zM127,123h2v1h-2zM178,123h3v1h-3zM212,123h1v1h-1zM312,200h1v1h-1zM334,200h2v1h-2zM377,200h20v1h-20zM69,116h2v1h-2zM93,116h4v1h-4zM102,116h8v1h-8zM239,151h2v1h-2zM301,192h2v1h-2zM354,192h3v1h-3zM445,247h1v1h-1zM525,356h1v1h-1zM561,396h2v1h-2zM662,396h2v1h-2zM677,396h2v1h-2zM495,324h1v1h-1zM626,406h5v1h-5zM637,406h2v1h-2zM691,406h1v1h-1zM749,478h1v1h-1zM897,478h4v1h-4zM988,478h2v1h-2zM1034,478h3v1h-3zM775,493h8v1h-8zM802,493h2v1h-2zM623,405h3v1h-3zM639,405h3v1h-3zM690,405h1v1h-1zM496,325h1v1h-1zM480,308h1v1h-1zM121,119h3v1h-3zM191,119h6v1h-6zM536,370h1v1h-1zM320,205h2v1h-2zM324,205h2v1h-2zM407,205h3v1h-3zM714,438h1v1h-1zM1104,438h1v1h-1zM609,401h4v1h-4zM650,401h3v1h-3zM687,401h1v1h-1zM133,127h2v1h-2zM168,127h2v1h-2zM216,127h1v1h-1zM743,470h1v1h-1zM1069,470h4v1h-4zM698,414h1v1h-1zM756,483h2v1h-2zM823,483h3v1h-3zM837,483h4v1h-4zM845,483h4v1h-4zM996,483h2v1h-2zM1024,483h2v1h-2zM540,376h1v1h-1zM560,395h1v1h-1zM664,395h2v1h-2zM671,395h6v1h-6zM758,484h1v1h-1zM821,484h2v1h-2zM841,484h4v1h-4zM998,484h2v1h-2zM1022,484h2v1h-2zM315,202h1v1h-1zM330,202h2v1h-2zM399,202h3v1h-3zM716,440h1v1h-1zM1102,440h1v1h-1zM49,114h15v1h-15zM143,132h1v1h-1zM158,132h2v1h-2zM220,132h1v1h-1zM305,195h2v1h-2zM346,195h3v1h-3zM364,195h2v1h-2zM64,115h5v1h-5zM97,115h5v1h-5zM557,393h2v1h-2zM741,468h1v1h-1zM1076,468h2v1h-2zM448,252h1v1h-1zM308,197h1v1h-1zM341,197h2v1h-2zM368,197h2v1h-2zM730,456h1v1h-1zM1091,456h1v1h-1zM769,491h2v1h-2zM806,491h2v1h-2zM510,340h1v1h-1zM559,394h1v1h-1zM666,394h5v1h-5zM718,443h1v1h-1zM1100,443h1v1h-1zM130,125h1v1h-1zM173,125h2v1h-2zM214,125h1v1h-1zM144,133h1v1h-1zM156,133h2v1h-2zM221,133h1v1h-1zM304,194h1v1h-1zM349,194h2v1h-2zM361,194h3v1h-3zM767,490h2v1h-2zM808,490h2v1h-2zM707,426h1v1h-1zM1112,426h1v1h-1zM535,369h1v1h-1zM463,282h1v1h-1zM282,179h1v1h-1zM311,199h1v1h-1zM336,199h2v1h-2zM373,199h4v1h-4zM241,152h2v1h-2zM430,221h1v1h-1zM539,375h1v1h-1zM517,347h1v1h-1zM283,180h1v1h-1zM147,135h4v1h-4zM223,135h1v1h-1zM771,492h4v1h-4zM804,492h2v1h-2zM499,329h1v1h-1zM734,461h1v1h-1zM1087,461h1v1h-1zM71,117h2v1h-2zM91,117h2v1h-2zM110,117h7v1h-7zM421,213h2v1h-2zM318,204h2v1h-2zM326,204h2v1h-2zM405,204h2v1h-2zM451,258h1v1h-1zM126,122h1v1h-1zM181,122h2v1h-2zM207,122h5v1h-5zM735,462h1v1h-1zM1086,462h1v1h-1zM145,134h2v1h-2zM151,134h5v1h-5zM222,134h1v1h-1zM238,150h1v1h-1zM447,251h1v1h-1zM415,209h2v1h-2zM444,245h1v1h-1zM506,336h1v1h-1zM429,220h1v1h-1zM528,360h1v1h-1zM742,469h1v1h-1zM1073,469h3v1h-3zM715,439h1v1h-1zM1103,439h1v1h-1zM461,279h1v1h-1zM322,206h2v1h-2zM410,206h2v1h-2zM732,459h1v1h-1zM1088,459h1v1h-1zM300,191h1v1h-1zM694,410h1v1h-1zM279,177h2v1h-2zM727,453h1v1h-1zM1093,453h1v1h-1zM303,193h1v1h-1zM351,193h3v1h-3zM357,193h4v1h-4zM789,495h4v1h-4zM797,495h2v1h-2zM462,280h1v1h-1zM483,312h1v1h-1zM316,203h2v1h-2zM328,203h2v1h-2zM402,203h3v1h-3zM738,465h1v1h-1zM1082,465h2v1h-2zM271,169h1v1h-1zM484,313h1v1h-1zM131,126h2v1h-2zM170,126h3v1h-3zM215,126h1v1h-1zM708,428h1v1h-1zM1110,428h1v1h-1zM138,129h2v1h-2zM164,129h2v1h-2zM218,129h1v1h-1zM234,147h1v1h-1zM764,488h2v1h-2zM812,488h2v1h-2zM546,382h1v1h-1zM763,487h1v1h-1zM814,487h2v1h-2zM740,467h1v1h-1zM1078,467h2v1h-2zM720,445h1v1h-1zM1099,445h1v1h-1zM226,139h1v1h-1zM490,319h1v1h-1zM414,208h1v1h-1zM248,157h1v1h-1zM726,452h1v1h-1zM1094,452h1v1h-1zM621,404h2v1h-2zM642,404h3v1h-3zM689,404h1v1h-1zM129,124h1v1h-1zM175,124h3v1h-3zM213,124h1v1h-1zM278,176h1v1h-1zM491,320h1v1h-1zM712,435h1v1h-1zM1106,435h1v1h-1zM249,158h2v1h-2zM447,250h1v1h-1zM759,485h2v1h-2zM818,485h3v1h-3zM1000,485h2v1h-2zM1020,485h2v1h-2zM428,218h1v1h-1zM553,389h1v1h-1zM444,244h1v1h-1zM693,409h1v1h-1zM793,496h4v1h-4zM417,210h2v1h-2zM233,146h1v1h-1zM251,159h2v1h-2zM538,373h1v1h-1zM440,237h1v1h-1zM458,273h1v1h-1zM461,278h1v1h-1zM498,327h1v1h-1zM605,400h4v1h-4zM653,400h2v1h-2zM685,400h2v1h-2zM708,429h1v1h-1zM1110,429h1v1h-1zM505,335h1v1h-1zM253,160h4v1h-4zM295,188h2v1h-2zM527,358h1v1h-1zM48,113h1v1h-1zM297,189h2v1h-2zM443,243h1v1h-1zM229,143h1v1h-1zM744,472h1v1h-1zM1061,472h4v1h-4zM432,224h1v1h-1zM512,342h1v1h-1zM475,302h1v1h-1zM289,184h2v1h-2zM712,434h1v1h-1zM1106,434h1v1h-1zM292,186h2v1h-2zM497,326h1v1h-1zM243,153h1v1h-1zM457,271h1v1h-1zM465,284h1v1h-1zM700,416h1v1h-1zM703,421h1v1h-1zM1115,421h1v1h-1zM244,154h1v1h-1zM519,349h1v1h-1zM704,422h1v1h-1zM1114,422h1v1h-1zM736,463h1v1h-1zM1085,463h1v1h-1zM716,441h1v1h-1zM1102,441h1v1h-1zM424,215h1v1h-1zM526,357h1v1h-1zM446,248h1v1h-1zM262,163h2v1h-2zM709,430h1v1h-1zM1109,430h1v1h-1zM47,111h1v1h-1zM442,241h1v1h-1zM460,277h1v1h-1zM530,363h1v1h-1zM431,222h1v1h-1zM443,242h1v1h-1zM464,283h1v1h-1zM744,471h1v1h-1zM1065,471h4v1h-4zM257,161h3v1h-3zM541,377h1v1h-1zM475,301h1v1h-1zM435,228h1v1h-1zM729,455h1v1h-1zM1092,455h1v1h-1zM707,427h1v1h-1zM1111,427h1v1h-1zM518,348h1v1h-1zM284,181h2v1h-2zM457,270h1v1h-1zM273,171h1v1h-1zM486,315h1v1h-1zM721,447h1v1h-1zM1098,447h1v1h-1zM703,420h1v1h-1zM236,149h2v1h-2zM730,457h1v1h-1zM1090,457h1v1h-1zM548,384h1v1h-1zM445,246h1v1h-1zM474,300h1v1h-1zM141,131h2v1h-2zM160,131h2v1h-2zM220,131h1v1h-1zM728,454h1v1h-1zM1092,454h1v1h-1zM459,275h1v1h-1zM419,211h1v1h-1zM478,306h1v1h-1zM439,235h1v1h-1zM456,269h1v1h-1zM442,240h1v1h-1zM460,276h1v1h-1zM420,212h1v1h-1zM235,148h1v1h-1zM471,294h1v1h-1zM500,330h1v1h-1zM272,170h1v1h-1zM485,314h1v1h-1zM313,201h2v1h-2zM332,201h2v1h-2zM397,201h2v1h-2zM710,432h1v1h-1zM1108,432h1v1h-1zM453,263h1v1h-1zM723,449h1v1h-1zM1096,449h1v1h-1zM713,436h1v1h-1zM1105,436h1v1h-1zM547,383h1v1h-1zM507,337h1v1h-1zM721,446h1v1h-1zM1098,446h1v1h-1zM441,239h1v1h-1zM529,361h1v1h-1zM492,321h1v1h-1zM706,425h1v1h-1zM1112,425h1v1h-1zM695,411h1v1h-1zM473,298h1v1h-1zM434,227h1v1h-1zM554,390h1v1h-1zM463,281h1v1h-1zM533,367h1v1h-1zM466,286h1v1h-1zM474,299h1v1h-1zM438,233h1v1h-1zM555,391h1v1h-1zM539,374h1v1h-1zM459,274h1v1h-1zM467,287h1v1h-1zM702,419h1v1h-1zM499,328h1v1h-1zM515,345h1v1h-1zM705,424h1v1h-1zM1113,424h1v1h-1zM456,268h1v1h-1zM412,207h2v1h-2zM452,261h1v1h-1zM710,431h1v1h-1zM1108,431h1v1h-1zM231,145h2v1h-2zM477,304h1v1h-1zM433,225h1v1h-1zM441,238h1v1h-1zM513,343h1v1h-1zM470,292h1v1h-1zM532,365h1v1h-1zM473,297h1v1h-1zM268,166h1v1h-1zM434,226h1v1h-1zM481,310h1v1h-1zM455,267h1v1h-1zM514,344h1v1h-1zM731,458h1v1h-1zM1089,458h1v1h-1zM466,285h1v1h-1zM701,417h1v1h-1zM702,418h1v1h-1zM223,136h1v1h-1zM294,187h1v1h-1zM520,350h1v1h-1zM705,423h1v1h-1zM1114,423h1v1h-1zM264,164h2v1h-2zM521,351h1v1h-1zM230,144h1v1h-1zM737,464h1v1h-1zM1084,464h1v1h-1zM476,303h1v1h-1zM725,451h1v1h-1zM1095,451h1v1h-1zM437,231h1v1h-1zM266,165h2v1h-2zM440,236h1v1h-1zM458,272h1v1h-1zM536,371h1v1h-1zM469,290h1v1h-1zM542,378h1v1h-1zM454,265h1v1h-1zM470,291h1v1h-1zM502,332h1v1h-1zM543,379h1v1h-1zM455,266h1v1h-1zM274,172h1v1h-1zM487,316h1v1h-1zM722,448h1v1h-1zM1097,448h1v1h-1zM733,460h1v1h-1zM1087,460h1v1h-1zM275,173h1v1h-1zM549,385h1v1h-1zM286,182h1v1h-1zM48,112h1v1h-1zM531,364h1v1h-1zM550,386h1v1h-1zM472,296h1v1h-1zM494,323h1v1h-1zM468,289h1v1h-1zM436,229h1v1h-1zM724,450h1v1h-1zM1095,450h1v1h-1zM711,433h1v1h-1zM1107,433h1v1h-1zM437,230h1v1h-1zM451,259h1v1h-1zM454,264h1v1h-1zM523,354h1v1h-1zM524,355h1v1h-1zM530,362h1v1h-1zM509,339h1v1h-1zM479,307h1v1h-1zM696,412h1v1h-1zM472,295h1v1h-1zM501,331h1v1h-1zM697,413h1v1h-1zM281,178h1v1h-1zM556,392h1v1h-1zM468,288h1v1h-1zM516,346h1v1h-1zM450,257h1v1h-1zM508,338h1v1h-1zM226,140h1v1h-1zM493,322h1v1h-1zM523,353h1v1h-1zM534,368h1v1h-1zM428,219h1v1h-1zM439,234h1v1h-1zM478,305h1v1h-1zM717,442h1v1h-1zM1101,442h1v1h-1zM471,293h1v1h-1zM269,167h1v1h-1zM270,168h1v1h-1zM453,262h1v1h-1zM544,380h1v1h-1zM224,137h1v1h-1zM545,381h1v1h-1zM449,255h1v1h-1zM225,138h1v1h-1zM450,256h1v1h-1zM527,359h1v1h-1zM277,175h1v1h-1zM299,190h1v1h-1zM533,366h1v1h-1zM552,388h1v1h-1zM482,311h1v1h-1zM438,232h1v1h-1zM537,372h1v1h-1zM714,437h1v1h-1zM1104,437h1v1h-1zM452,260h1v1h-1zM522,352h1v1h-1zM504,334h1v1h-1zM446,249h1v1h-1zM449,254h1v1h-1zM427,217h1v1h-1zM692,408h1v1h-1zM551,387h1v1h-1zM431,223h1v1h-1zM511,341h1v1h-1zM481,309h1v1h-1zM291,185h1v1h-1z" fill="#FF0000"/>
<path d="M565,425h1v1h-1zM600,425h1v1h-1zM688,425h1v1h-1zM1097,425h1v1h-1zM65,119h1v1h-1zM120,119h2v1h-2zM127,119h16v1h-16zM193,119h4v1h-4zM206,119h1v1h-1zM213,119h1v1h-1zM555,398h1v1h-1zM614,398h1v1h-1zM672,398h1v1h-1zM1110,398h1v1h-1zM712,492h1v1h-1zM766,492h1v1h-1zM997,492h4v1h-4zM1021,492h1v1h-1zM711,488h1v1h-1zM769,488h1v1h-1zM833,488h1v1h-1zM848,488h2v1h-2zM855,488h6v1h-6zM992,488h1v1h-1zM1026,488h1v1h-1zM70,125h1v1h-1zM111,125h1v1h-1zM151,125h1v1h-1zM182,125h1v1h-1zM217,125h1v1h-1zM701,461h1v1h-1zM1052,461h1v1h-1zM711,489h1v1h-1zM768,489h1v1h-1zM833,489h1v1h-1zM846,489h2v1h-2zM993,489h1v1h-1zM1025,489h1v1h-1zM242,184h1v1h-1zM337,184h2v1h-2zM341,184h4v1h-4zM553,393h1v1h-1zM615,393h1v1h-1zM670,393h1v1h-1zM1113,393h1v1h-1zM708,477h1v1h-1zM778,477h1v1h-1zM781,477h4v1h-4zM791,477h6v1h-6zM817,477h3v1h-3zM885,477h1v1h-1zM939,477h2v1h-2zM1038,477h1v1h-1zM468,352h1v1h-1zM429,244h1v1h-1zM566,426h1v1h-1zM599,426h1v1h-1zM688,426h1v1h-1zM1097,426h1v1h-1zM709,480h1v1h-1zM775,480h1v1h-1zM824,480h2v1h-2zM877,480h4v1h-4zM967,480h6v1h-6zM1035,480h1v1h-1zM711,487h1v1h-1zM770,487h1v1h-1zM832,487h1v1h-1zM850,487h5v1h-5zM861,487h2v1h-2zM991,487h1v1h-1zM1027,487h1v1h-1zM87,145h1v1h-1zM95,145h1v1h-1zM227,145h1v1h-1zM259,203h1v1h-1zM292,203h2v1h-2zM381,203h1v1h-1zM693,440h1v1h-1zM1084,440h1v1h-1zM433,250h1v1h-1zM471,362h1v1h-1zM518,362h2v1h-2zM535,362h1v1h-1zM88,146h1v1h-1zM94,146h1v1h-1zM227,146h1v1h-1zM454,309h1v1h-1zM554,396h1v1h-1zM614,396h1v1h-1zM671,396h1v1h-1zM1111,396h1v1h-1zM72,127h1v1h-1zM108,127h1v1h-1zM153,127h1v1h-1zM180,127h1v1h-1zM218,127h1v1h-1zM716,501h1v1h-1zM760,501h1v1h-1zM472,363h1v1h-1zM517,363h1v1h-1zM536,363h2v1h-2zM718,504h1v1h-1zM758,504h1v1h-1zM234,162h1v1h-1zM231,156h1v1h-1zM457,319h1v1h-1zM722,510h1v1h-1zM751,510h2v1h-2zM708,478h1v1h-1zM777,478h1v1h-1zM785,478h6v1h-6zM820,478h2v1h-2zM884,478h1v1h-1zM941,478h4v1h-4zM1037,478h1v1h-1zM242,183h1v1h-1zM339,183h2v1h-2zM478,378h1v1h-1zM504,378h1v1h-1zM547,378h1v1h-1zM631,378h5v1h-5zM658,378h2v1h-2zM695,444h1v1h-1zM1073,444h2v1h-2zM707,475h1v1h-1zM799,475h3v1h-3zM807,475h6v1h-6zM887,475h1v1h-1zM935,475h2v1h-2zM1040,475h1v1h-1zM567,427h1v1h-1zM598,427h1v1h-1zM688,427h1v1h-1zM1096,427h1v1h-1zM479,379h1v1h-1zM503,379h1v1h-1zM547,379h1v1h-1zM626,379h5v1h-5zM660,379h1v1h-1zM238,173h1v1h-1zM447,283h1v1h-1zM709,482h1v1h-1zM774,482h1v1h-1zM828,482h1v1h-1zM872,482h2v1h-2zM977,482h11v1h-11zM1033,482h1v1h-1zM568,429h1v1h-1zM597,429h1v1h-1zM689,429h1v1h-1zM1094,429h1v1h-1zM244,188h1v1h-1zM331,188h1v1h-1zM359,188h3v1h-3zM450,293h1v1h-1zM254,200h1v1h-1zM297,200h2v1h-2zM379,200h1v1h-1zM562,420h1v1h-1zM604,420h1v1h-1zM686,420h1v1h-1zM1100,420h1v1h-1zM245,189h1v1h-1zM330,189h1v1h-1zM362,189h2v1h-2zM248,194h1v1h-1zM327,194h1v1h-1zM371,194h1v1h-1zM559,409h1v1h-1zM609,409h1v1h-1zM679,409h1v1h-1zM1105,409h1v1h-1zM246,190h1v1h-1zM330,190h1v1h-1zM364,190h2v1h-2zM712,490h1v1h-1zM768,490h1v1h-1zM834,490h1v1h-1zM844,490h2v1h-2zM994,490h1v1h-1zM1023,490h2v1h-2zM698,454h1v1h-1zM1057,454h1v1h-1zM246,191h1v1h-1zM329,191h1v1h-1zM366,191h1v1h-1zM244,187h1v1h-1zM332,187h2v1h-2zM357,187h2v1h-2zM76,132h1v1h-1zM104,132h1v1h-1zM162,132h10v1h-10zM221,132h1v1h-1zM73,128h1v1h-1zM107,128h1v1h-1zM154,128h1v1h-1zM178,128h2v1h-2zM218,128h1v1h-1zM82,139h1v1h-1zM99,139h1v1h-1zM224,139h1v1h-1zM696,447h1v1h-1zM1068,447h2v1h-2zM73,129h1v1h-1zM106,129h1v1h-1zM155,129h2v1h-2zM176,129h2v1h-2zM219,129h1v1h-1zM710,483h1v1h-1zM773,483h1v1h-1zM829,483h1v1h-1zM870,483h2v1h-2zM988,483h1v1h-1zM1031,483h2v1h-2zM490,388h3v1h-3zM551,388h1v1h-1zM617,388h1v1h-1zM668,388h1v1h-1zM704,468h1v1h-1zM894,468h2v1h-2zM921,468h3v1h-3zM1046,468h1v1h-1zM710,485h1v1h-1zM771,485h1v1h-1zM830,485h1v1h-1zM866,485h2v1h-2zM990,485h1v1h-1zM1029,485h1v1h-1zM446,277h1v1h-1zM699,457h1v1h-1zM1055,457h1v1h-1zM554,395h1v1h-1zM615,395h1v1h-1zM671,395h1v1h-1zM1112,395h1v1h-1zM700,458h1v1h-1zM1054,458h1v1h-1zM476,373h1v1h-1zM508,373h1v1h-1zM544,373h1v1h-1zM643,373h4v1h-4zM712,491h1v1h-1zM767,491h1v1h-1zM835,491h9v1h-9zM995,491h2v1h-2zM1022,491h1v1h-1zM64,118h1v1h-1zM122,118h5v1h-5zM207,118h2v1h-2zM212,118h1v1h-1zM707,474h1v1h-1zM802,474h5v1h-5zM887,474h1v1h-1zM934,474h1v1h-1zM1041,474h1v1h-1zM478,377h1v1h-1zM505,377h1v1h-1zM546,377h1v1h-1zM636,377h2v1h-2zM656,377h2v1h-2zM480,382h1v1h-1zM500,382h1v1h-1zM549,382h1v1h-1zM620,382h2v1h-2zM663,382h1v1h-1zM704,469h1v1h-1zM892,469h2v1h-2zM924,469h2v1h-2zM1045,469h1v1h-1zM75,131h1v1h-1zM105,131h1v1h-1zM159,131h3v1h-3zM172,131h2v1h-2zM220,131h1v1h-1zM467,349h1v1h-1zM86,143h1v1h-1zM96,143h1v1h-1zM226,143h1v1h-1zM255,201h2v1h-2zM295,201h2v1h-2zM380,201h1v1h-1zM63,116h1v1h-1zM211,116h1v1h-1zM261,206h1v1h-1zM289,206h1v1h-1zM383,206h1v1h-1zM703,466h1v1h-1zM898,466h19v1h-19zM1048,466h1v1h-1zM266,215h1v1h-1zM278,215h1v1h-1zM390,215h2v1h-2zM470,359h1v1h-1zM522,359h2v1h-2zM527,359h4v1h-4zM74,130h1v1h-1zM106,130h1v1h-1zM157,130h2v1h-2zM174,130h2v1h-2zM220,130h1v1h-1zM704,467h1v1h-1zM896,467h2v1h-2zM917,467h4v1h-4zM1047,467h1v1h-1zM699,456h1v1h-1zM1056,456h1v1h-1zM453,306h1v1h-1zM232,158h1v1h-1zM713,494h1v1h-1zM765,494h1v1h-1zM1007,494h13v1h-13zM559,410h1v1h-1zM609,410h1v1h-1zM680,410h1v1h-1zM1105,410h1v1h-1zM233,159h1v1h-1zM442,269h1v1h-1zM456,316h1v1h-1zM480,381h1v1h-1zM501,381h1v1h-1zM548,381h1v1h-1zM622,381h2v1h-2zM662,381h1v1h-1zM487,387h3v1h-3zM493,387h2v1h-2zM551,387h1v1h-1zM618,387h1v1h-1zM667,387h1v1h-1zM477,375h1v1h-1zM506,375h1v1h-1zM545,375h1v1h-1zM639,375h2v1h-2zM652,375h2v1h-2zM707,476h1v1h-1zM779,476h2v1h-2zM797,476h2v1h-2zM813,476h4v1h-4zM886,476h1v1h-1zM937,476h2v1h-2zM1039,476h1v1h-1zM252,199h2v1h-2zM299,199h4v1h-4zM311,199h13v1h-13zM377,199h2v1h-2zM561,417h1v1h-1zM605,417h1v1h-1zM685,417h1v1h-1zM1101,417h1v1h-1zM446,280h1v1h-1zM570,431h1v1h-1zM594,431h2v1h-2zM690,431h1v1h-1zM1093,431h1v1h-1zM471,360h1v1h-1zM521,360h1v1h-1zM531,360h2v1h-2zM561,418h1v1h-1zM605,418h1v1h-1zM685,418h1v1h-1zM1101,418h1v1h-1zM474,369h1v1h-1zM511,369h1v1h-1zM542,369h1v1h-1zM247,192h1v1h-1zM328,192h1v1h-1zM367,192h2v1h-2zM734,513h2v1h-2zM745,513h3v1h-3zM250,197h1v1h-1zM324,197h1v1h-1zM375,197h1v1h-1zM67,121h1v1h-1zM116,121h2v1h-2zM148,121h1v1h-1zM187,121h2v1h-2zM201,121h3v1h-3zM214,121h1v1h-1zM572,433h2v1h-2zM589,433h2v1h-2zM691,433h1v1h-1zM1091,433h1v1h-1zM553,392h1v1h-1zM616,392h1v1h-1zM670,392h1v1h-1zM1114,392h1v1h-1zM481,384h1v1h-1zM499,384h1v1h-1zM549,384h1v1h-1zM619,384h1v1h-1zM665,384h1v1h-1zM694,443h1v1h-1zM1075,443h2v1h-2zM69,124h1v1h-1zM112,124h1v1h-1zM151,124h1v1h-1zM183,124h2v1h-2zM216,124h1v1h-1zM713,493h1v1h-1zM766,493h1v1h-1zM1001,493h6v1h-6zM1020,493h1v1h-1zM571,432h1v1h-1zM591,432h3v1h-3zM690,432h1v1h-1zM1092,432h1v1h-1zM243,186h1v1h-1zM334,186h1v1h-1zM351,186h6v1h-6zM476,374h1v1h-1zM507,374h1v1h-1zM545,374h1v1h-1zM641,374h2v1h-2zM647,374h5v1h-5zM559,412h1v1h-1zM608,412h1v1h-1zM682,412h1v1h-1zM1104,412h1v1h-1zM473,367h1v1h-1zM513,367h1v1h-1zM541,367h1v1h-1zM701,460h1v1h-1zM1053,460h1v1h-1zM265,212h1v1h-1zM283,212h1v1h-1zM386,212h1v1h-1zM706,473h1v1h-1zM888,473h1v1h-1zM932,473h2v1h-2zM1042,473h1v1h-1zM461,334h1v1h-1zM577,436h2v1h-2zM581,436h2v1h-2zM692,436h1v1h-1zM1088,436h1v1h-1zM266,214h1v1h-1zM279,214h2v1h-2zM388,214h2v1h-2zM705,470h1v1h-1zM891,470h1v1h-1zM926,470h2v1h-2zM1045,470h1v1h-1zM562,419h1v1h-1zM604,419h1v1h-1zM685,419h1v1h-1zM1100,419h1v1h-1zM462,335h1v1h-1zM251,198h1v1h-1zM303,198h8v1h-8zM324,198h1v1h-1zM376,198h1v1h-1zM574,434h1v1h-1zM586,434h3v1h-3zM691,434h1v1h-1zM1090,434h1v1h-1zM465,345h1v1h-1zM264,211h1v1h-1zM284,211h1v1h-1zM386,211h1v1h-1zM69,123h1v1h-1zM113,123h2v1h-2zM150,123h1v1h-1zM185,123h1v1h-1zM215,123h1v1h-1zM454,308h1v1h-1zM709,481h1v1h-1zM775,481h1v1h-1zM826,481h2v1h-2zM874,481h3v1h-3zM973,481h4v1h-4zM1034,481h1v1h-1zM231,155h1v1h-1zM553,394h1v1h-1zM615,394h1v1h-1zM671,394h1v1h-1zM1113,394h1v1h-1zM722,509h1v1h-1zM753,509h2v1h-2zM440,265h1v1h-1zM715,500h1v1h-1zM761,500h1v1h-1zM262,208h1v1h-1zM287,208h1v1h-1zM384,208h1v1h-1zM441,266h1v1h-1zM238,172h1v1h-1zM447,282h1v1h-1zM556,401h1v1h-1zM612,401h1v1h-1zM674,401h1v1h-1zM1109,401h1v1h-1zM243,185h1v1h-1zM335,185h2v1h-2zM345,185h6v1h-6zM560,414h1v1h-1zM607,414h1v1h-1zM683,414h1v1h-1zM1103,414h1v1h-1zM472,365h1v1h-1zM515,365h1v1h-1zM540,365h1v1h-1zM562,421h1v1h-1zM603,421h1v1h-1zM686,421h1v1h-1zM1099,421h1v1h-1zM248,193h1v1h-1zM327,193h1v1h-1zM369,193h2v1h-2zM558,408h1v1h-1zM610,408h1v1h-1zM679,408h1v1h-1zM1105,408h1v1h-1zM708,479h1v1h-1zM776,479h1v1h-1zM822,479h2v1h-2zM881,479h3v1h-3zM945,479h22v1h-22zM1036,479h1v1h-1zM470,358h1v1h-1zM524,358h3v1h-3zM714,496h1v1h-1zM764,496h1v1h-1zM399,219h3v1h-3zM66,120h1v1h-1zM118,120h2v1h-2zM143,120h5v1h-5zM189,120h4v1h-4zM197,120h4v1h-4zM204,120h2v1h-2zM213,120h1v1h-1zM454,311h1v1h-1zM479,380h1v1h-1zM502,380h1v1h-1zM548,380h1v1h-1zM624,380h2v1h-2zM661,380h1v1h-1zM481,383h1v1h-1zM500,383h1v1h-1zM549,383h1v1h-1zM619,383h1v1h-1zM664,383h1v1h-1zM457,321h1v1h-1zM695,445h1v1h-1zM1071,445h2v1h-2zM710,484h1v1h-1zM772,484h1v1h-1zM829,484h1v1h-1zM868,484h2v1h-2zM989,484h1v1h-1zM1030,484h1v1h-1zM557,403h1v1h-1zM612,403h1v1h-1zM675,403h1v1h-1zM1108,403h1v1h-1zM241,180h1v1h-1zM575,435h2v1h-2zM583,435h3v1h-3zM691,435h1v1h-1zM1089,435h1v1h-1zM467,348h1v1h-1zM450,295h1v1h-1zM414,229h1v1h-1zM453,305h1v1h-1zM250,196h1v1h-1zM325,196h1v1h-1zM373,196h2v1h-2zM439,263h1v1h-1zM442,268h1v1h-1zM79,136h1v1h-1zM101,136h1v1h-1zM223,136h1v1h-1zM484,386h3v1h-3zM495,386h2v1h-2zM550,386h1v1h-1zM618,386h1v1h-1zM667,386h1v1h-1zM723,511h9v1h-9zM750,511h1v1h-1zM696,449h1v1h-1zM1064,449h2v1h-2zM473,368h1v1h-1zM512,368h1v1h-1zM542,368h1v1h-1zM706,472h1v1h-1zM889,472h1v1h-1zM930,472h2v1h-2zM1043,472h1v1h-1zM446,279h1v1h-1zM556,402h1v1h-1zM612,402h1v1h-1zM674,402h1v1h-1zM1108,402h1v1h-1zM703,465h1v1h-1zM1049,465h1v1h-1zM702,464h1v1h-1zM1049,464h1v1h-1zM705,471h1v1h-1zM890,471h1v1h-1zM928,471h2v1h-2zM1044,471h1v1h-1zM409,225h2v1h-2zM560,413h1v1h-1zM607,413h1v1h-1zM683,413h1v1h-1zM1103,413h1v1h-1zM229,150h1v1h-1zM432,249h1v1h-1zM435,254h1v1h-1zM716,502h1v1h-1zM759,502h1v1h-1zM559,411h1v1h-1zM608,411h1v1h-1zM681,411h1v1h-1zM1104,411h1v1h-1zM473,366h1v1h-1zM514,366h1v1h-1zM541,366h1v1h-1zM233,161h1v1h-1zM456,318h1v1h-1zM474,370h1v1h-1zM511,370h1v1h-1zM543,370h1v1h-1zM239,176h1v1h-1zM711,486h1v1h-1zM770,486h1v1h-1zM831,486h1v1h-1zM863,486h3v1h-3zM991,486h1v1h-1zM1028,486h1v1h-1zM240,177h1v1h-1zM567,428h1v1h-1zM597,428h1v1h-1zM689,428h1v1h-1zM1095,428h1v1h-1zM404,221h1v1h-1zM405,222h2v1h-2zM397,218h2v1h-2zM267,216h4v1h-4zM276,216h2v1h-2zM392,216h2v1h-2zM80,137h1v1h-1zM101,137h1v1h-1zM223,137h1v1h-1zM90,148h1v1h-1zM92,148h1v1h-1zM228,148h1v1h-1zM698,452h1v1h-1zM1059,452h1v1h-1zM81,138h1v1h-1zM100,138h1v1h-1zM224,138h1v1h-1zM695,446h1v1h-1zM1070,446h1v1h-1zM702,463h1v1h-1zM1050,463h1v1h-1zM579,437h2v1h-2zM692,437h1v1h-1zM1087,437h1v1h-1zM555,399h1v1h-1zM613,399h1v1h-1zM673,399h1v1h-1zM1110,399h1v1h-1zM558,406h1v1h-1zM611,406h1v1h-1zM677,406h1v1h-1zM1106,406h1v1h-1zM471,361h1v1h-1zM520,361h1v1h-1zM533,361h2v1h-2zM462,337h1v1h-1zM271,217h5v1h-5zM394,217h3v1h-3zM713,495h1v1h-1zM764,495h1v1h-1zM468,353h1v1h-1zM61,114h1v1h-1zM260,204h1v1h-1zM291,204h1v1h-1zM381,204h1v1h-1zM433,251h1v1h-1zM62,115h1v1h-1zM260,205h1v1h-1zM290,205h1v1h-1zM382,205h1v1h-1zM89,147h1v1h-1zM93,147h1v1h-1zM228,147h1v1h-1zM454,310h1v1h-1zM434,252h1v1h-1zM263,210h1v1h-1zM285,210h1v1h-1zM385,210h1v1h-1zM472,364h1v1h-1zM516,364h1v1h-1zM538,364h2v1h-2zM87,144h1v1h-1zM95,144h1v1h-1zM227,144h1v1h-1zM234,163h1v1h-1zM263,209h1v1h-1zM286,209h1v1h-1zM385,209h1v1h-1zM477,376h1v1h-1zM505,376h1v1h-1zM546,376h1v1h-1zM638,376h1v1h-1zM654,376h2v1h-2zM238,174h1v1h-1zM447,284h1v1h-1zM569,430h1v1h-1zM596,430h1v1h-1zM689,430h1v1h-1zM1094,430h1v1h-1zM736,514h2v1h-2zM741,514h4v1h-4zM79,135h1v1h-1zM102,135h1v1h-1zM222,135h1v1h-1zM557,404h1v1h-1zM611,404h1v1h-1zM675,404h1v1h-1zM1107,404h1v1h-1zM696,448h1v1h-1zM1066,448h2v1h-2zM700,459h1v1h-1zM1053,459h1v1h-1zM561,416h1v1h-1zM606,416h1v1h-1zM684,416h1v1h-1zM1102,416h1v1h-1zM464,340h1v1h-1zM467,350h1v1h-1zM697,451h1v1h-1zM1060,451h2v1h-2zM91,149h1v1h-1zM229,149h1v1h-1zM402,220h2v1h-2zM432,248h1v1h-1zM64,117h1v1h-1zM209,117h2v1h-2zM212,117h1v1h-1zM453,307h1v1h-1zM558,407h1v1h-1zM610,407h1v1h-1zM678,407h1v1h-1zM1106,407h1v1h-1zM233,160h1v1h-1zM721,508h1v1h-1zM755,508h1v1h-1zM443,271h1v1h-1zM71,126h1v1h-1zM109,126h2v1h-2zM152,126h1v1h-1zM181,126h1v1h-1zM217,126h1v1h-1zM257,202h2v1h-2zM294,202h1v1h-1zM380,202h1v1h-1zM415,230h2v1h-2zM417,231h1v1h-1zM694,441h1v1h-1zM1081,441h3v1h-3zM702,462h1v1h-1zM1051,462h1v1h-1zM236,168h1v1h-1zM462,336h1v1h-1zM83,140h1v1h-1zM99,140h1v1h-1zM225,140h1v1h-1zM412,227h1v1h-1zM413,228h1v1h-1zM555,397h1v1h-1zM614,397h1v1h-1zM672,397h1v1h-1zM1111,397h1v1h-1zM441,267h1v1h-1zM482,385h2v1h-2zM497,385h2v1h-2zM550,385h1v1h-1zM618,385h1v1h-1zM666,385h1v1h-1zM564,424h1v1h-1zM601,424h1v1h-1zM687,424h1v1h-1zM1098,424h1v1h-1zM475,372h1v1h-1zM509,372h1v1h-1zM544,372h1v1h-1zM249,195h1v1h-1zM326,195h1v1h-1zM372,195h1v1h-1zM77,133h1v1h-1zM104,133h1v1h-1zM221,133h1v1h-1zM407,223h1v1h-1zM408,224h1v1h-1zM419,233h1v1h-1zM551,389h1v1h-1zM617,389h1v1h-1zM668,389h1v1h-1zM469,355h1v1h-1zM84,141h1v1h-1zM98,141h1v1h-1zM225,141h1v1h-1zM475,371h1v1h-1zM510,371h1v1h-1zM543,371h1v1h-1zM455,313h1v1h-1zM457,322h1v1h-1zM458,323h1v1h-1zM235,165h1v1h-1zM241,181h1v1h-1zM451,297h1v1h-1zM697,450h1v1h-1zM1062,450h2v1h-2zM68,122h1v1h-1zM115,122h1v1h-1zM149,122h1v1h-1zM186,122h1v1h-1zM215,122h1v1h-1zM443,270h1v1h-1zM464,342h1v1h-1zM78,134h1v1h-1zM103,134h1v1h-1zM222,134h1v1h-1zM229,151h1v1h-1zM60,113h1v1h-1zM230,152h1v1h-1zM435,255h1v1h-1zM85,142h1v1h-1zM97,142h1v1h-1zM226,142h1v1h-1zM694,442h1v1h-1zM1077,442h4v1h-4zM436,256h1v1h-1zM236,167h1v1h-1zM240,178h1v1h-1zM428,242h1v1h-1zM698,453h1v1h-1zM1058,453h1v1h-1zM563,423h1v1h-1zM601,423h1v1h-1zM687,423h1v1h-1zM1098,423h1v1h-1zM459,328h1v1h-1zM556,400h1v1h-1zM613,400h1v1h-1zM673,400h1v1h-1zM1109,400h1v1h-1zM557,405h1v1h-1zM611,405h1v1h-1zM676,405h1v1h-1zM1107,405h1v1h-1zM463,339h1v1h-1zM469,354h1v1h-1zM434,253h1v1h-1zM452,301h1v1h-1zM738,515h3v1h-3zM455,312h1v1h-1zM235,164h1v1h-1zM719,505h1v1h-1zM757,505h1v1h-1zM445,275h1v1h-1zM448,285h1v1h-1zM563,422h1v1h-1zM602,422h1v1h-1zM686,422h1v1h-1zM1099,422h1v1h-1zM451,296h1v1h-1zM426,239h1v1h-1zM693,439h1v1h-1zM1085,439h1v1h-1zM430,245h1v1h-1zM458,325h1v1h-1zM464,341h1v1h-1zM421,235h1v1h-1zM422,236h1v1h-1zM451,299h1v1h-1zM411,226h1v1h-1zM560,415h1v1h-1zM606,415h1v1h-1zM684,415h1v1h-1zM1102,415h1v1h-1zM732,512h2v1h-2zM748,512h2v1h-2zM428,241h1v1h-1zM552,390h1v1h-1zM616,390h1v1h-1zM669,390h1v1h-1zM1115,390h1v1h-1zM717,503h1v1h-1zM759,503h1v1h-1zM459,327h1v1h-1zM463,338h1v1h-1zM449,290h1v1h-1zM423,237h2v1h-2zM452,300h1v1h-1zM714,498h1v1h-1zM762,498h1v1h-1zM445,274h1v1h-1zM699,455h1v1h-1zM1057,455h1v1h-1zM466,346h1v1h-1zM469,356h1v1h-1zM455,314h1v1h-1zM438,261h1v1h-1zM458,324h1v1h-1zM235,166h1v1h-1zM241,182h1v1h-1zM448,287h1v1h-1zM451,298h1v1h-1zM461,332h1v1h-1zM418,232h1v1h-1zM230,153h1v1h-1zM436,257h1v1h-1zM237,169h1v1h-1zM240,179h1v1h-1zM449,289h1v1h-1zM425,238h1v1h-1zM692,438h1v1h-1zM1086,438h1v1h-1zM459,329h1v1h-1zM460,330h1v1h-1zM420,234h1v1h-1zM452,302h1v1h-1zM438,260h1v1h-1zM445,276h1v1h-1zM448,286h1v1h-1zM430,246h1v1h-1zM427,240h1v1h-1zM715,499h1v1h-1zM762,499h1v1h-1zM458,326h1v1h-1zM444,273h1v1h-1zM552,391h1v1h-1zM616,391h1v1h-1zM669,391h1v1h-1zM1114,391h1v1h-1zM468,351h1v1h-1zM429,243h1v1h-1zM714,497h1v1h-1zM763,497h1v1h-1zM237,171h1v1h-1zM720,507h1v1h-1zM756,507h1v1h-1zM265,213h1v1h-1zM281,213h2v1h-2zM387,213h1v1h-1zM449,291h1v1h-1zM450,292h1v1h-1zM261,207h1v1h-1zM288,207h1v1h-1zM383,207h1v1h-1zM466,347h1v1h-1zM455,315h1v1h-1zM232,157h1v1h-1zM448,288h1v1h-1zM444,272h1v1h-1zM461,333h1v1h-1zM465,344h1v1h-1zM231,154h1v1h-1zM437,259h1v1h-1zM440,264h1v1h-1zM237,170h1v1h-1zM719,506h1v1h-1zM756,506h1v1h-1zM447,281h1v1h-1zM457,320h1v1h-1zM460,331h1v1h-1zM450,294h1v1h-1zM452,303h1v1h-1zM470,357h1v1h-1zM453,304h1v1h-1zM439,262h1v1h-1zM446,278h1v1h-1zM431,247h1v1h-1zM456,317h1v1h-1zM239,175h1v1h-1zM465,343h1v1h-1zM437,258h1v1h-1z" fill="#0000CD"/>
<g shape-rendering="crispEdges">
<rect x="383" y="242" width="850" height="5" fill="#F83636" />
<rect x="383" y="242" width="850" height="1" fill="#FF2424" />
<rect x="383" y="246" width="850" height="1" fill="#FF2424" />
<rect x="620" y="409" width="600" height="4" fill="#96C800" />
<rect x="606" y="541" width="611" height="4" fill="#3A94E2" />
<rect x="606" y="541" width="611" height="1" fill="#2288E0" />
<rect x="606" y="544" width="611" height="1" fill="#2288E0" />
</g>
</g>
<polygon points="6,39 13,39 9.5,35" fill="#000"/>
<text x="18" y="40" font-size="10" fill="#000" font-weight="normal" text-anchor="start" textLength="68" lengthAdjust="spacingAndGlyphs"  stroke="#000" stroke-width="0.35">USDCNH-,Daily</text>
<text x="93" y="40" font-size="10" fill="#000" font-weight="normal" text-anchor="start" textLength="141" lengthAdjust="spacingAndGlyphs"  stroke="#000" stroke-width="0.35">6.80330 6.81535 6.80033 6.80901</text>
<defs><linearGradient id="tab" x1="0" y1="0" x2="0" y2="1"><stop offset="0" stop-color="#5A5AFF"/><stop offset="1" stop-color="#3030E8"/></linearGradient><linearGradient id="pbox" x1="0" y1="0" x2="0" y2="1"><stop offset="0" stop-color="#2828E0"/><stop offset="1" stop-color="#0000A8"/></linearGradient><linearGradient id="spin" x1="0" y1="0" x2="0" y2="1"><stop offset="0" stop-color="#F2F2F2"/><stop offset="0.45" stop-color="#E6E6E6"/><stop offset="0.5" stop-color="#D8D8D8"/><stop offset="1" stop-color="#CFCFCF"/></linearGradient></defs>
<rect x="4" y="46" width="224" height="68" fill="#FFFFFF" />
<rect x="6" y="48" width="52" height="25" fill="url(#tab)" />
<rect x="173" y="48" width="52" height="25" fill="url(#tab)" />
<rect x="6" y="72" width="109" height="40" fill="url(#pbox)" />
<rect x="117" y="72" width="108" height="40" fill="url(#pbox)" />
<path d="M6.5,48.5 H57.5 V72.5 H114.5 V111.5 H6.5 Z" fill="none" stroke="#0000B0" shape-rendering="crispEdges"/>
<path d="M173.5,48.5 H224.5 V111.5 H117.5 V72.5 H173.5 Z" fill="none" stroke="#0000B0" shape-rendering="crispEdges"/>
<rect x="10" y="72" width="44" height="1" fill="#8C8CFF" />
<rect x="177" y="72" width="44" height="1" fill="#8C8CFF" />
<rect x="60.5" y="48.5" width="110" height="21" fill="#FFFFFF" stroke="#B4B4B4"/>
<rect x="61" y="49" width="20" height="20" fill="url(#spin)" />
<rect x="81" y="49" width="1" height="20" fill="#B8B8B8" />
<rect x="150" y="49" width="20" height="20" fill="url(#spin)" />
<rect x="149" y="49" width="1" height="20" fill="#B8B8B8" />
<polygon points="67.5,57 74.5,57 71,60.5" fill="#5A6CB8"/>
<polygon points="156.5,60 163.5,60 160,56.5" fill="#5A6CB8"/>
<text x="146" y="63" font-size="12" fill="#000" font-weight="normal" text-anchor="end" textLength="23" lengthAdjust="spacingAndGlyphs" >1.00</text>
<text x="19" y="64" font-size="12" fill="#E8E8FF" font-weight="normal" text-anchor="start" textLength="25" lengthAdjust="spacingAndGlyphs" >SELL</text>
<text x="187" y="64" font-size="12" fill="#E8E8FF" font-weight="normal" text-anchor="start" textLength="23" lengthAdjust="spacingAndGlyphs" >BUY</text>
<text x="26" y="103" font-size="12" fill="#FFF" font-weight="bold" text-anchor="start" textLength="24" lengthAdjust="spacingAndGlyphs" >6.80</text>
<text x="54" y="103" font-size="33" fill="#FFF" font-weight="normal" text-anchor="start" textLength="34" lengthAdjust="spacingAndGlyphs" >90</text>
<text x="93" y="87" font-size="12" fill="#FFF" font-weight="bold" text-anchor="start" textLength="7" lengthAdjust="spacingAndGlyphs" >1</text>
<text x="136" y="103" font-size="12" fill="#FFF" font-weight="bold" text-anchor="start" textLength="24" lengthAdjust="spacingAndGlyphs" >6.81</text>
<text x="166" y="103" font-size="33" fill="#FFF" font-weight="normal" text-anchor="start" textLength="32" lengthAdjust="spacingAndGlyphs" >13</text>
<text x="204" y="87" font-size="12" fill="#FFF" font-weight="bold" text-anchor="start" textLength="7" lengthAdjust="spacingAndGlyphs" >2</text>
<g shape-rendering="crispEdges">
<rect x="3" y="583" width="1" height="32" fill="#C0C0C0" />
<rect x="11" y="583" width="1" height="32" fill="#C0C0C0" />
<rect x="19" y="582" width="1" height="33" fill="#C0C0C0" />
<rect x="27" y="582" width="1" height="33" fill="#C0C0C0" />
<rect x="35" y="581" width="1" height="34" fill="#C0C0C0" />
<rect x="43" y="582" width="1" height="33" fill="#C0C0C0" />
<rect x="51" y="592" width="1" height="23" fill="#C0C0C0" />
<rect x="59" y="597" width="1" height="18" fill="#C0C0C0" />
<rect x="67" y="600" width="1" height="15" fill="#C0C0C0" />
<rect x="75" y="603" width="1" height="12" fill="#C0C0C0" />
<rect x="83" y="603" width="1" height="12" fill="#C0C0C0" />
<rect x="91" y="602" width="1" height="13" fill="#C0C0C0" />
<rect x="99" y="599" width="1" height="16" fill="#C0C0C0" />
<rect x="107" y="600" width="1" height="15" fill="#C0C0C0" />
<rect x="115" y="600" width="1" height="15" fill="#C0C0C0" />
<rect x="123" y="602" width="1" height="13" fill="#C0C0C0" />
<rect x="131" y="606" width="1" height="9" fill="#C0C0C0" />
<rect x="139" y="607" width="1" height="8" fill="#C0C0C0" />
<rect x="147" y="607" width="1" height="8" fill="#C0C0C0" />
<rect x="155" y="608" width="1" height="7" fill="#C0C0C0" />
<rect x="163" y="610" width="1" height="5" fill="#C0C0C0" />
<rect x="171" y="609" width="1" height="6" fill="#C0C0C0" />
<rect x="179" y="608" width="1" height="7" fill="#C0C0C0" />
<rect x="187" y="607" width="1" height="8" fill="#C0C0C0" />
<rect x="195" y="608" width="1" height="7" fill="#C0C0C0" />
<rect x="203" y="608" width="1" height="7" fill="#C0C0C0" />
<rect x="211" y="608" width="1" height="7" fill="#C0C0C0" />
<rect x="219" y="613" width="1" height="2" fill="#C0C0C0" />
<rect x="227" y="614" width="1" height="10" fill="#C0C0C0" />
<rect x="235" y="614" width="1" height="16" fill="#C0C0C0" />
<rect x="243" y="614" width="1" height="19" fill="#C0C0C0" />
<rect x="251" y="614" width="1" height="20" fill="#C0C0C0" />
<rect x="259" y="614" width="1" height="17" fill="#C0C0C0" />
<rect x="267" y="614" width="1" height="17" fill="#C0C0C0" />
<rect x="275" y="614" width="1" height="20" fill="#C0C0C0" />
<rect x="283" y="614" width="1" height="21" fill="#C0C0C0" />
<rect x="291" y="614" width="1" height="17" fill="#C0C0C0" />
<rect x="299" y="614" width="1" height="17" fill="#C0C0C0" />
<rect x="307" y="614" width="1" height="16" fill="#C0C0C0" />
<rect x="315" y="614" width="1" height="14" fill="#C0C0C0" />
<rect x="323" y="614" width="1" height="13" fill="#C0C0C0" />
<rect x="331" y="614" width="1" height="10" fill="#C0C0C0" />
<rect x="339" y="614" width="1" height="8" fill="#C0C0C0" />
<rect x="347" y="614" width="1" height="8" fill="#C0C0C0" />
<rect x="355" y="614" width="1" height="8" fill="#C0C0C0" />
<rect x="363" y="614" width="1" height="10" fill="#C0C0C0" />
<rect x="371" y="614" width="1" height="12" fill="#C0C0C0" />
<rect x="379" y="614" width="1" height="14" fill="#C0C0C0" />
<rect x="387" y="614" width="1" height="16" fill="#C0C0C0" />
<rect x="395" y="614" width="1" height="15" fill="#C0C0C0" />
<rect x="403" y="614" width="1" height="14" fill="#C0C0C0" />
<rect x="411" y="614" width="1" height="16" fill="#C0C0C0" />
<rect x="419" y="614" width="1" height="19" fill="#C0C0C0" />
<rect x="427" y="614" width="1" height="20" fill="#C0C0C0" />
<rect x="435" y="614" width="1" height="27" fill="#C0C0C0" />
<rect x="443" y="614" width="1" height="32" fill="#C0C0C0" />
<rect x="451" y="614" width="1" height="42" fill="#C0C0C0" />
<rect x="459" y="614" width="1" height="48" fill="#C0C0C0" />
<rect x="467" y="614" width="1" height="52" fill="#C0C0C0" />
<rect x="475" y="614" width="1" height="55" fill="#C0C0C0" />
<rect x="483" y="614" width="1" height="54" fill="#C0C0C0" />
<rect x="491" y="614" width="1" height="50" fill="#C0C0C0" />
<rect x="499" y="614" width="1" height="46" fill="#C0C0C0" />
<rect x="507" y="614" width="1" height="42" fill="#C0C0C0" />
<rect x="515" y="614" width="1" height="40" fill="#C0C0C0" />
<rect x="523" y="614" width="1" height="38" fill="#C0C0C0" />
<rect x="531" y="614" width="1" height="41" fill="#C0C0C0" />
<rect x="539" y="614" width="1" height="43" fill="#C0C0C0" />
<rect x="547" y="614" width="1" height="44" fill="#C0C0C0" />
<rect x="555" y="614" width="1" height="51" fill="#C0C0C0" />
<rect x="563" y="614" width="1" height="54" fill="#C0C0C0" />
<rect x="571" y="614" width="1" height="51" fill="#C0C0C0" />
<rect x="579" y="614" width="1" height="46" fill="#C0C0C0" />
<rect x="587" y="614" width="1" height="42" fill="#C0C0C0" />
<rect x="595" y="614" width="1" height="37" fill="#C0C0C0" />
<rect x="603" y="614" width="1" height="32" fill="#C0C0C0" />
<rect x="611" y="614" width="1" height="28" fill="#C0C0C0" />
<rect x="619" y="614" width="1" height="22" fill="#C0C0C0" />
<rect x="627" y="614" width="1" height="21" fill="#C0C0C0" />
<rect x="635" y="614" width="1" height="18" fill="#C0C0C0" />
<rect x="643" y="614" width="1" height="16" fill="#C0C0C0" />
<rect x="651" y="614" width="1" height="16" fill="#C0C0C0" />
<rect x="659" y="614" width="1" height="15" fill="#C0C0C0" />
<rect x="667" y="614" width="1" height="18" fill="#C0C0C0" />
<rect x="675" y="614" width="1" height="23" fill="#C0C0C0" />
<rect x="683" y="614" width="1" height="26" fill="#C0C0C0" />
<rect x="691" y="614" width="1" height="30" fill="#C0C0C0" />
<rect x="699" y="614" width="1" height="36" fill="#C0C0C0" />
<rect x="707" y="614" width="1" height="40" fill="#C0C0C0" />
<rect x="715" y="614" width="1" height="43" fill="#C0C0C0" />
<rect x="723" y="614" width="1" height="44" fill="#C0C0C0" />
<rect x="731" y="614" width="1" height="40" fill="#C0C0C0" />
<rect x="739" y="614" width="1" height="39" fill="#C0C0C0" />
<rect x="747" y="614" width="1" height="37" fill="#C0C0C0" />
<rect x="755" y="614" width="1" height="34" fill="#C0C0C0" />
<rect x="763" y="614" width="1" height="30" fill="#C0C0C0" />
<rect x="771" y="614" width="1" height="26" fill="#C0C0C0" />
<rect x="779" y="614" width="1" height="23" fill="#C0C0C0" />
<rect x="787" y="614" width="1" height="22" fill="#C0C0C0" />
<rect x="795" y="614" width="1" height="23" fill="#C0C0C0" />
<rect x="803" y="614" width="1" height="20" fill="#C0C0C0" />
<rect x="811" y="614" width="1" height="19" fill="#C0C0C0" />
<rect x="819" y="614" width="1" height="17" fill="#C0C0C0" />
<rect x="827" y="614" width="1" height="16" fill="#C0C0C0" />
<rect x="835" y="614" width="1" height="19" fill="#C0C0C0" />
<rect x="843" y="614" width="1" height="18" fill="#C0C0C0" />
<rect x="851" y="614" width="1" height="15" fill="#C0C0C0" />
<rect x="859" y="614" width="1" height="14" fill="#C0C0C0" />
<rect x="867" y="614" width="1" height="12" fill="#C0C0C0" />
<rect x="875" y="614" width="1" height="7" fill="#C0C0C0" />
<rect x="883" y="614" width="1" height="5" fill="#C0C0C0" />
<rect x="891" y="614" width="1" height="5" fill="#C0C0C0" />
<rect x="899" y="614" width="1" height="5" fill="#C0C0C0" />
<rect x="907" y="614" width="1" height="4" fill="#C0C0C0" />
<rect x="915" y="614" width="1" height="5" fill="#C0C0C0" />
<rect x="923" y="614" width="1" height="5" fill="#C0C0C0" />
<rect x="931" y="614" width="1" height="6" fill="#C0C0C0" />
<rect x="939" y="614" width="1" height="4" fill="#C0C0C0" />
<rect x="947" y="614" width="1" height="5" fill="#C0C0C0" />
<rect x="955" y="614" width="1" height="4" fill="#C0C0C0" />
<rect x="963" y="614" width="1" height="3" fill="#C0C0C0" />
<rect x="971" y="614" width="1" height="4" fill="#C0C0C0" />
<rect x="979" y="614" width="1" height="5" fill="#C0C0C0" />
<rect x="987" y="614" width="1" height="5" fill="#C0C0C0" />
<rect x="995" y="614" width="1" height="8" fill="#C0C0C0" />
<rect x="1003" y="614" width="1" height="8" fill="#C0C0C0" />
<rect x="1011" y="614" width="1" height="7" fill="#C0C0C0" />
<rect x="1019" y="614" width="1" height="4" fill="#C0C0C0" />
<rect x="1027" y="614" width="1" height="2" fill="#C0C0C0" />
<rect x="1035" y="613" width="1" height="2" fill="#C0C0C0" />
<rect x="1043" y="611" width="1" height="4" fill="#C0C0C0" />
<rect x="1051" y="610" width="1" height="5" fill="#C0C0C0" />
<rect x="1059" y="609" width="1" height="6" fill="#C0C0C0" />
<rect x="1067" y="609" width="1" height="6" fill="#C0C0C0" />
<rect x="1075" y="607" width="1" height="8" fill="#C0C0C0" />
<rect x="1083" y="607" width="1" height="8" fill="#C0C0C0" />
<rect x="1091" y="601" width="1" height="14" fill="#C0C0C0" />
<rect x="1099" y="595" width="1" height="20" fill="#C0C0C0" />
<rect x="1107" y="590" width="1" height="25" fill="#C0C0C0" />
<rect x="1115" y="585" width="1" height="30" fill="#C0C0C0" />
<rect x="1419" y="614" width="3" height="1" fill="#000" />
</g>
<path d="M477,650h2v1h-2zM627,650h2v1h-2zM736,650h2v1h-2zM741,650h3v1h-3zM771,650h3v1h-3zM16,582h2v1h-2zM21,582h3v1h-3zM27,582h3v1h-3zM33,582h3v1h-3zM39,582h3v1h-3zM45,582h3v1h-3zM51,582h1v1h-1zM471,646h1v1h-1zM635,646h1v1h-1zM789,646h2v1h-2zM507,661h3v1h-3zM513,661h3v1h-3zM519,661h3v1h-3zM525,661h3v1h-3zM291,632h3v1h-3zM297,632h3v1h-3zM303,632h3v1h-3zM309,632h3v1h-3zM315,632h3v1h-3zM441,632h3v1h-3zM855,632h3v1h-3zM489,655h1v1h-1zM615,655h3v1h-3zM255,619h1v1h-1zM935,619h1v1h-1zM939,619h3v1h-3zM945,619h3v1h-3zM951,619h3v1h-3zM957,619h3v1h-3zM963,619h3v1h-3zM969,619h3v1h-3zM975,619h3v1h-3zM981,619h3v1h-3zM987,619h3v1h-3zM993,619h3v1h-3zM1035,619h3v1h-3zM243,615h3v1h-3zM1060,615h2v1h-2zM268,625h2v1h-2zM369,625h3v1h-3zM375,625h3v1h-3zM381,625h3v1h-3zM387,625h3v1h-3zM393,625h3v1h-3zM898,625h2v1h-2zM903,625h1v1h-1zM472,647h1v1h-1zM633,647h2v1h-2zM729,647h1v1h-1zM783,647h3v1h-3zM231,612h3v1h-3zM69,585h3v1h-3zM274,627h2v1h-2zM357,627h3v1h-3zM407,627h1v1h-1zM411,627h3v1h-3zM886,627h2v1h-2zM891,627h2v1h-2zM117,599h3v1h-3zM100,595h2v1h-2zM495,658h3v1h-3zM543,658h3v1h-3zM549,658h3v1h-3zM597,658h3v1h-3zM603,658h3v1h-3zM447,634h1v1h-1zM670,634h2v1h-2zM675,634h3v1h-3zM687,634h3v1h-3zM837,634h3v1h-3zM280,629h2v1h-2zM339,629h3v1h-3zM345,629h1v1h-1zM423,629h3v1h-3zM873,629h3v1h-3zM467,644h1v1h-1zM639,644h2v1h-2zM723,644h2v1h-2zM795,644h3v1h-3zM279,628h1v1h-1zM346,628h2v1h-2zM351,628h3v1h-3zM417,628h3v1h-3zM879,628h3v1h-3zM885,628h1v1h-1zM273,626h1v1h-1zM363,626h3v1h-3zM399,626h3v1h-3zM405,626h2v1h-2zM893,626h1v1h-1zM897,626h1v1h-1zM249,617h2v1h-2zM1047,617h3v1h-3zM1053,617h3v1h-3zM501,659h2v1h-2zM537,659h3v1h-3zM555,659h3v1h-3zM561,659h3v1h-3zM567,659h3v1h-3zM573,659h3v1h-3zM579,659h3v1h-3zM591,659h3v1h-3zM453,637h2v1h-2zM657,637h3v1h-3zM699,637h2v1h-2zM819,637h3v1h-3zM183,606h3v1h-3zM189,606h3v1h-3zM1095,606h3v1h-3zM717,642h1v1h-1zM801,642h3v1h-3zM237,613h1v1h-1zM1071,613h3v1h-3zM195,607h3v1h-3zM201,607h3v1h-3zM207,607h3v1h-3zM123,600h3v1h-3zM1114,600h2v1h-2zM461,641h1v1h-1zM645,641h3v1h-3zM711,641h3v1h-3zM807,641h1v1h-1zM503,660h1v1h-1zM531,660h3v1h-3zM585,660h3v1h-3zM285,630h1v1h-1zM329,630h1v1h-1zM333,630h3v1h-3zM429,630h3v1h-3zM867,630h3v1h-3zM154,603h2v1h-2zM159,603h3v1h-3zM165,603h3v1h-3zM106,597h2v1h-2zM459,640h2v1h-2zM706,640h2v1h-2zM808,640h2v1h-2zM171,604h3v1h-3zM1103,604h1v1h-1zM681,633h3v1h-3zM843,633h3v1h-3zM849,633h3v1h-3zM256,620h2v1h-2zM928,620h2v1h-2zM933,620h2v1h-2zM999,620h3v1h-3zM1005,620h3v1h-3zM1011,620h3v1h-3zM1017,620h3v1h-3zM1023,620h3v1h-3zM1029,620h3v1h-3zM9,583h3v1h-3zM15,583h1v1h-1zM52,583h2v1h-2zM57,583h3v1h-3zM261,622h2v1h-2zM915,622h3v1h-3zM465,643h2v1h-2zM641,643h1v1h-1zM718,643h2v1h-2zM81,589h3v1h-3zM921,621h3v1h-3zM927,621h1v1h-1zM76,587h2v1h-2zM286,631h2v1h-2zM321,631h3v1h-3zM327,631h2v1h-2zM435,631h3v1h-3zM861,631h3v1h-3zM111,598h3v1h-3zM213,608h3v1h-3zM219,608h3v1h-3zM1089,608h3v1h-3zM129,601h3v1h-3zM135,601h3v1h-3zM1113,601h1v1h-1zM3,584h3v1h-3zM63,584h3v1h-3zM141,602h3v1h-3zM147,602h3v1h-3zM153,602h1v1h-1zM1107,602h3v1h-3zM177,605h3v1h-3zM1101,605h2v1h-2zM725,645h1v1h-1zM791,645h1v1h-1zM455,638h1v1h-1zM653,638h1v1h-1zM701,638h1v1h-1zM815,638h1v1h-1zM448,635h2v1h-2zM664,635h2v1h-2zM669,635h1v1h-1zM693,635h3v1h-3zM831,635h3v1h-3zM479,651h1v1h-1zM747,651h3v1h-3zM753,651h2v1h-2zM765,651h3v1h-3zM1083,609h3v1h-3zM623,652h1v1h-1zM755,652h1v1h-1zM759,652h3v1h-3zM251,618h1v1h-1zM1041,618h3v1h-3zM1077,611h3v1h-3zM629,649h1v1h-1zM735,649h1v1h-1zM777,649h2v1h-2zM473,648h1v1h-1zM730,648h2v1h-2zM779,648h1v1h-1zM225,610h3v1h-3zM263,623h1v1h-1zM909,623h3v1h-3zM651,639h2v1h-2zM705,639h1v1h-1zM813,639h2v1h-2zM87,591h3v1h-3zM485,654h1v1h-1zM238,614h2v1h-2zM1065,614h3v1h-3zM609,657h3v1h-3zM483,653h2v1h-2zM621,653h2v1h-2zM663,636h1v1h-1zM825,636h3v1h-3zM93,593h3v1h-3zM105,596h1v1h-1zM267,624h1v1h-1zM904,624h2v1h-2zM490,656h2v1h-2zM99,594h1v1h-1zM75,586h1v1h-1zM1059,616h1v1h-1z" fill="#FF0000"/>
<text x="7" y="583" font-size="10" fill="#000" font-weight="normal" text-anchor="start" textLength="148" lengthAdjust="spacingAndGlyphs"  stroke="#000" stroke-width="0.35">MACD(12,26,9) 0.019542 0.009093</text>
<text x="1424" y="582" font-size="10" fill="#000" font-weight="normal" text-anchor="start" textLength="36" lengthAdjust="spacingAndGlyphs"  stroke="#000" stroke-width="0.35">0.027908</text>
<text x="1424" y="618" font-size="10" fill="#000" font-weight="normal" text-anchor="start" textLength="17" lengthAdjust="spacingAndGlyphs"  stroke="#000" stroke-width="0.35">0.00</text>
<text x="1424" y="672" font-size="10" fill="#000" font-weight="normal" text-anchor="start" textLength="34" lengthAdjust="spacingAndGlyphs"  stroke="#000" stroke-width="0.35">-0.03887</text>
<g shape-rendering="crispEdges">
<line x1="4" y1="716.5" x2="1418" y2="716.5" stroke="#C0C0C0" stroke-dasharray="3,3"/>
<rect x="1419" y="716" width="3" height="1" fill="#000" />
<line x1="4" y1="767.5" x2="1418" y2="767.5" stroke="#C0C0C0" stroke-dasharray="3,3"/>
<rect x="1419" y="767" width="3" height="1" fill="#000" />
</g>
<path d="M51,751h1v1h-1zM217,751h1v1h-1zM252,751h1v1h-1zM270,751h1v1h-1zM280,751h2v1h-2zM376,751h2v1h-2zM389,751h1v1h-1zM409,751h2v1h-2zM502,751h1v1h-1zM511,751h1v1h-1zM571,751h1v1h-1zM664,751h1v1h-1zM730,751h1v1h-1zM733,751h2v1h-2zM752,751h2v1h-2zM787,751h2v1h-2zM797,751h1v1h-1zM831,751h1v1h-1zM840,751h1v1h-1zM991,751h1v1h-1zM1000,751h1v1h-1zM49,749h1v1h-1zM53,749h1v1h-1zM216,749h1v1h-1zM253,749h1v1h-1zM267,749h1v1h-1zM284,749h1v1h-1zM361,749h2v1h-2zM365,749h4v1h-4zM372,749h2v1h-2zM391,749h2v1h-2zM406,749h1v1h-1zM505,749h2v1h-2zM508,749h1v1h-1zM574,749h1v1h-1zM584,749h2v1h-2zM588,749h2v1h-2zM662,749h1v1h-1zM756,749h1v1h-1zM785,749h1v1h-1zM799,749h1v1h-1zM829,749h1v1h-1zM841,749h1v1h-1zM975,749h5v1h-5zM990,749h1v1h-1zM1001,749h1v1h-1zM40,733h1v1h-1zM92,733h2v1h-2zM103,733h2v1h-2zM1028,733h2v1h-2zM1040,733h2v1h-2zM1073,733h1v1h-1zM1078,733h1v1h-1zM1085,733h1v1h-1zM1111,715h5v1h-5zM39,730h1v1h-1zM97,730h2v1h-2zM100,730h1v1h-1zM1034,730h2v1h-2zM1086,730h1v1h-1zM47,746h1v1h-1zM57,746h1v1h-1zM215,746h1v1h-1zM256,746h1v1h-1zM263,746h2v1h-2zM287,746h2v1h-2zM301,746h4v1h-4zM308,746h2v1h-2zM356,746h2v1h-2zM395,746h4v1h-4zM579,746h1v1h-1zM594,746h3v1h-3zM626,746h1v1h-1zM628,746h2v1h-2zM649,746h11v1h-11zM759,746h2v1h-2zM781,746h1v1h-1zM802,746h1v1h-1zM805,746h2v1h-2zM815,746h3v1h-3zM823,746h5v1h-5zM844,746h1v1h-1zM915,746h4v1h-4zM925,746h2v1h-2zM934,746h1v1h-1zM969,746h1v1h-1zM983,746h2v1h-2zM988,746h1v1h-1zM1003,746h1v1h-1zM217,752h1v1h-1zM249,752h3v1h-3zM271,752h2v1h-2zM278,752h2v1h-2zM378,752h5v1h-5zM388,752h1v1h-1zM411,752h1v1h-1zM491,752h4v1h-4zM500,752h2v1h-2zM512,752h1v1h-1zM521,752h3v1h-3zM571,752h1v1h-1zM665,752h1v1h-1zM729,752h1v1h-1zM735,752h3v1h-3zM750,752h2v1h-2zM789,752h4v1h-4zM796,752h1v1h-1zM831,752h1v1h-1zM839,752h1v1h-1zM992,752h1v1h-1zM999,752h1v1h-1zM224,761h2v1h-2zM228,761h2v1h-2zM432,761h1v1h-1zM484,761h1v1h-1zM530,761h1v1h-1zM567,761h1v1h-1zM692,761h2v1h-2zM721,761h1v1h-1zM46,745h1v1h-1zM58,745h1v1h-1zM130,745h2v1h-2zM214,745h1v1h-1zM257,745h1v1h-1zM262,745h1v1h-1zM289,745h1v1h-1zM297,745h4v1h-4zM310,745h1v1h-1zM322,745h2v1h-2zM346,745h10v1h-10zM597,745h2v1h-2zM625,745h1v1h-1zM630,745h2v1h-2zM645,745h4v1h-4zM761,745h1v1h-1zM780,745h1v1h-1zM803,745h2v1h-2zM818,745h5v1h-5zM845,745h2v1h-2zM858,745h3v1h-3zM913,745h2v1h-2zM919,745h6v1h-6zM935,745h2v1h-2zM968,745h1v1h-1zM985,745h2v1h-2zM988,745h1v1h-1zM1004,745h2v1h-2zM444,770h2v1h-2zM465,770h2v1h-2zM469,770h4v1h-4zM476,770h1v1h-1zM554,770h1v1h-1zM559,770h5v1h-5zM45,744h1v1h-1zM59,744h4v1h-4zM128,744h2v1h-2zM132,744h2v1h-2zM214,744h1v1h-1zM257,744h1v1h-1zM261,744h1v1h-1zM290,744h1v1h-1zM293,744h4v1h-4zM311,744h2v1h-2zM319,744h3v1h-3zM324,744h1v1h-1zM343,744h3v1h-3zM599,744h3v1h-3zM624,744h1v1h-1zM632,744h2v1h-2zM639,744h6v1h-6zM762,744h1v1h-1zM767,744h13v1h-13zM847,744h1v1h-1zM856,744h2v1h-2zM861,744h2v1h-2zM911,744h2v1h-2zM937,744h2v1h-2zM967,744h1v1h-1zM987,744h1v1h-1zM1006,744h2v1h-2zM49,748h1v1h-1zM54,748h1v1h-1zM216,748h1v1h-1zM254,748h1v1h-1zM266,748h1v1h-1zM285,748h1v1h-1zM359,748h2v1h-2zM369,748h3v1h-3zM393,748h1v1h-1zM404,748h2v1h-2zM507,748h1v1h-1zM575,748h2v1h-2zM582,748h2v1h-2zM590,748h2v1h-2zM661,748h1v1h-1zM757,748h1v1h-1zM783,748h2v1h-2zM800,748h1v1h-1zM810,748h3v1h-3zM828,748h1v1h-1zM842,748h1v1h-1zM930,748h2v1h-2zM971,748h4v1h-4zM980,748h2v1h-2zM989,748h1v1h-1zM1002,748h1v1h-1zM48,747h1v1h-1zM55,747h2v1h-2zM215,747h1v1h-1zM255,747h1v1h-1zM265,747h1v1h-1zM286,747h1v1h-1zM305,747h3v1h-3zM358,747h1v1h-1zM394,747h1v1h-1zM399,747h5v1h-5zM577,747h2v1h-2zM580,747h2v1h-2zM592,747h2v1h-2zM627,747h1v1h-1zM660,747h1v1h-1zM758,747h1v1h-1zM782,747h1v1h-1zM801,747h1v1h-1zM807,747h3v1h-3zM813,747h2v1h-2zM828,747h1v1h-1zM843,747h1v1h-1zM927,747h3v1h-3zM932,747h2v1h-2zM970,747h1v1h-1zM982,747h1v1h-1zM989,747h1v1h-1zM1002,747h1v1h-1zM43,741h1v1h-1zM76,741h2v1h-2zM122,741h2v1h-2zM137,741h2v1h-2zM153,741h2v1h-2zM164,741h1v1h-1zM201,741h3v1h-3zM213,741h1v1h-1zM327,741h2v1h-2zM336,741h2v1h-2zM614,741h2v1h-2zM621,741h1v1h-1zM851,741h1v1h-1zM868,741h2v1h-2zM889,741h2v1h-2zM903,741h5v1h-5zM958,741h2v1h-2zM965,741h1v1h-1zM1012,741h2v1h-2zM45,743h1v1h-1zM63,743h8v1h-8zM126,743h2v1h-2zM134,743h1v1h-1zM214,743h1v1h-1zM258,743h1v1h-1zM260,743h1v1h-1zM291,743h2v1h-2zM313,743h2v1h-2zM317,743h2v1h-2zM325,743h1v1h-1zM341,743h2v1h-2zM602,743h10v1h-10zM623,743h1v1h-1zM634,743h5v1h-5zM763,743h4v1h-4zM848,743h1v1h-1zM854,743h2v1h-2zM863,743h3v1h-3zM910,743h1v1h-1zM939,743h17v1h-17zM967,743h1v1h-1zM1008,743h2v1h-2zM217,753h1v1h-1zM245,753h4v1h-4zM273,753h2v1h-2zM276,753h2v1h-2zM383,753h5v1h-5zM412,753h1v1h-1zM490,753h1v1h-1zM495,753h5v1h-5zM513,753h2v1h-2zM517,753h4v1h-4zM524,753h1v1h-1zM570,753h1v1h-1zM666,753h1v1h-1zM728,753h1v1h-1zM738,753h5v1h-5zM748,753h2v1h-2zM793,753h3v1h-3zM832,753h1v1h-1zM838,753h1v1h-1zM992,753h1v1h-1zM998,753h1v1h-1zM40,734h1v1h-1zM90,734h2v1h-2zM105,734h1v1h-1zM185,734h3v1h-3zM1026,734h2v1h-2zM1042,734h18v1h-18zM1071,734h2v1h-2zM1079,734h2v1h-2zM1084,734h1v1h-1zM50,750h1v1h-1zM52,750h1v1h-1zM216,750h1v1h-1zM253,750h1v1h-1zM268,750h2v1h-2zM282,750h2v1h-2zM363,750h2v1h-2zM374,750h2v1h-2zM390,750h1v1h-1zM407,750h2v1h-2zM503,750h2v1h-2zM509,750h2v1h-2zM572,750h2v1h-2zM586,750h2v1h-2zM663,750h1v1h-1zM731,750h2v1h-2zM754,750h2v1h-2zM786,750h1v1h-1zM798,750h1v1h-1zM830,750h1v1h-1zM841,750h1v1h-1zM990,750h1v1h-1zM1000,750h1v1h-1zM19,720h12v1h-12zM35,720h1v1h-1zM1091,720h2v1h-2zM42,739h1v1h-1zM79,739h2v1h-2zM118,739h2v1h-2zM141,739h2v1h-2zM150,739h1v1h-1zM167,739h1v1h-1zM195,739h2v1h-2zM205,739h2v1h-2zM212,739h1v1h-1zM330,739h1v1h-1zM332,739h2v1h-2zM618,739h2v1h-2zM871,739h2v1h-2zM886,739h1v1h-1zM962,739h2v1h-2zM1015,739h2v1h-2zM38,726h1v1h-1zM1088,726h1v1h-1zM218,754h1v1h-1zM242,754h3v1h-3zM275,754h1v1h-1zM413,754h2v1h-2zM489,754h1v1h-1zM515,754h2v1h-2zM525,754h1v1h-1zM570,754h1v1h-1zM667,754h1v1h-1zM727,754h1v1h-1zM743,754h5v1h-5zM833,754h1v1h-1zM837,754h1v1h-1zM993,754h1v1h-1zM998,754h1v1h-1zM41,735h1v1h-1zM87,735h3v1h-3zM106,735h1v1h-1zM181,735h4v1h-4zM188,735h2v1h-2zM211,735h1v1h-1zM1023,735h3v1h-3zM1060,735h2v1h-2zM1070,735h1v1h-1zM1081,735h2v1h-2zM1084,735h1v1h-1zM42,738h1v1h-1zM81,738h2v1h-2zM116,738h2v1h-2zM143,738h3v1h-3zM148,738h2v1h-2zM168,738h1v1h-1zM193,738h2v1h-2zM207,738h1v1h-1zM212,738h1v1h-1zM331,738h1v1h-1zM873,738h2v1h-2zM884,738h2v1h-2zM1017,738h2v1h-2zM1066,738h2v1h-2zM220,759h2v1h-2zM231,759h2v1h-2zM431,759h1v1h-1zM485,759h1v1h-1zM529,759h1v1h-1zM568,759h1v1h-1zM673,759h2v1h-2zM676,759h2v1h-2zM688,759h2v1h-2zM723,759h1v1h-1zM1097,718h4v1h-4zM44,742h1v1h-1zM71,742h5v1h-5zM124,742h2v1h-2zM135,742h2v1h-2zM155,742h9v1h-9zM213,742h1v1h-1zM259,742h1v1h-1zM315,742h2v1h-2zM326,742h1v1h-1zM338,742h3v1h-3zM612,742h2v1h-2zM622,742h1v1h-1zM849,742h2v1h-2zM852,742h2v1h-2zM866,742h2v1h-2zM891,742h12v1h-12zM908,742h2v1h-2zM956,742h2v1h-2zM966,742h1v1h-1zM1010,742h2v1h-2zM446,771h1v1h-1zM463,771h2v1h-2zM473,771h3v1h-3zM555,771h4v1h-4zM15,722h2v1h-2zM36,722h1v1h-1zM1090,722h1v1h-1zM2,725h10v1h-10zM37,725h1v1h-1zM1089,725h1v1h-1zM218,755h1v1h-1zM239,755h3v1h-3zM415,755h1v1h-1zM426,755h2v1h-2zM489,755h1v1h-1zM525,755h1v1h-1zM569,755h1v1h-1zM668,755h1v1h-1zM727,755h1v1h-1zM834,755h1v1h-1zM837,755h1v1h-1zM993,755h1v1h-1zM997,755h1v1h-1zM41,736h1v1h-1zM85,736h2v1h-2zM107,736h4v1h-4zM171,736h10v1h-10zM190,736h1v1h-1zM209,736h3v1h-3zM1021,736h2v1h-2zM1062,736h2v1h-2zM1069,736h1v1h-1zM1083,736h1v1h-1zM435,764h1v1h-1zM481,764h1v1h-1zM548,764h1v1h-1zM566,764h1v1h-1zM698,764h11v1h-11zM717,764h1v1h-1zM438,766h1v1h-1zM479,766h1v1h-1zM550,766h1v1h-1zM565,766h1v1h-1zM713,766h3v1h-3zM218,756h1v1h-1zM237,756h2v1h-2zM416,756h1v1h-1zM423,756h3v1h-3zM428,756h1v1h-1zM488,756h1v1h-1zM526,756h1v1h-1zM569,756h1v1h-1zM669,756h2v1h-2zM682,756h2v1h-2zM726,756h1v1h-1zM834,756h1v1h-1zM836,756h1v1h-1zM994,756h1v1h-1zM996,756h1v1h-1zM43,740h1v1h-1zM78,740h1v1h-1zM120,740h2v1h-2zM139,740h2v1h-2zM151,740h2v1h-2zM165,740h2v1h-2zM197,740h4v1h-4zM204,740h1v1h-1zM213,740h1v1h-1zM329,740h1v1h-1zM334,740h2v1h-2zM616,740h2v1h-2zM620,740h1v1h-1zM870,740h1v1h-1zM887,740h2v1h-2zM960,740h2v1h-2zM964,740h1v1h-1zM1014,740h1v1h-1zM219,757h1v1h-1zM235,757h2v1h-2zM417,757h2v1h-2zM421,757h2v1h-2zM429,757h1v1h-1zM487,757h1v1h-1zM527,757h1v1h-1zM568,757h1v1h-1zM671,757h1v1h-1zM680,757h2v1h-2zM684,757h2v1h-2zM725,757h1v1h-1zM835,757h1v1h-1zM994,757h1v1h-1zM996,757h1v1h-1zM226,762h2v1h-2zM433,762h1v1h-1zM483,762h1v1h-1zM531,762h12v1h-12zM566,762h1v1h-1zM694,762h2v1h-2zM719,762h2v1h-2zM42,737h1v1h-1zM83,737h2v1h-2zM111,737h5v1h-5zM146,737h2v1h-2zM169,737h2v1h-2zM191,737h2v1h-2zM208,737h1v1h-1zM212,737h1v1h-1zM875,737h9v1h-9zM1019,737h2v1h-2zM1064,737h2v1h-2zM1068,737h1v1h-1zM434,763h1v1h-1zM482,763h1v1h-1zM543,763h5v1h-5zM566,763h1v1h-1zM696,763h2v1h-2zM718,763h1v1h-1zM31,719h5v1h-5zM1093,719h4v1h-4zM443,769h1v1h-1zM467,769h2v1h-2zM477,769h1v1h-1zM553,769h1v1h-1zM563,769h1v1h-1zM436,765h2v1h-2zM480,765h1v1h-1zM549,765h1v1h-1zM565,765h1v1h-1zM709,765h4v1h-4zM716,765h1v1h-1zM451,774h9v1h-9zM222,760h2v1h-2zM230,760h1v1h-1zM431,760h1v1h-1zM485,760h1v1h-1zM529,760h1v1h-1zM567,760h1v1h-1zM675,760h1v1h-1zM690,760h2v1h-2zM722,760h1v1h-1zM17,721h2v1h-2zM36,721h1v1h-1zM1091,721h1v1h-1zM1105,716h6v1h-6zM219,758h1v1h-1zM233,758h2v1h-2zM419,758h2v1h-2zM430,758h1v1h-1zM486,758h1v1h-1zM528,758h1v1h-1zM568,758h1v1h-1zM672,758h1v1h-1zM678,758h2v1h-2zM686,758h2v1h-2zM724,758h1v1h-1zM995,758h1v1h-1zM38,728h1v1h-1zM1087,728h1v1h-1zM39,731h1v1h-1zM95,731h2v1h-2zM101,731h1v1h-1zM1032,731h2v1h-2zM1036,731h2v1h-2zM1075,731h1v1h-1zM1086,731h1v1h-1zM12,724h2v1h-2zM37,724h1v1h-1zM1089,724h1v1h-1zM447,772h2v1h-2zM462,772h1v1h-1zM441,768h2v1h-2zM478,768h1v1h-1zM552,768h1v1h-1zM564,768h1v1h-1zM40,732h1v1h-1zM94,732h1v1h-1zM102,732h1v1h-1zM1030,732h2v1h-2zM1038,732h2v1h-2zM1074,732h1v1h-1zM1076,732h2v1h-2zM1085,732h1v1h-1zM1101,717h4v1h-4zM439,767h2v1h-2zM479,767h1v1h-1zM551,767h1v1h-1zM564,767h1v1h-1zM14,723h1v1h-1zM36,723h1v1h-1zM1090,723h1v1h-1zM449,773h2v1h-2zM460,773h2v1h-2zM39,729h1v1h-1zM99,729h1v1h-1zM1087,729h1v1h-1zM38,727h1v1h-1zM1088,727h1v1h-1z" fill="#1E90FF"/>
<text x="7" y="689" font-size="10" fill="#000" font-weight="normal" text-anchor="start" textLength="67" lengthAdjust="spacingAndGlyphs"  stroke="#000" stroke-width="0.35">RSI(14) 70.8217</text>
<text x="1424" y="687" font-size="10" fill="#000" font-weight="normal" text-anchor="start" textLength="17" lengthAdjust="spacingAndGlyphs"  stroke="#000" stroke-width="0.35">100</text>
<text x="1424" y="721" font-size="10" fill="#000" font-weight="normal" text-anchor="start" textLength="11" lengthAdjust="spacingAndGlyphs"  stroke="#000" stroke-width="0.35">70</text>
<text x="1424" y="771" font-size="10" fill="#000" font-weight="normal" text-anchor="start" textLength="11" lengthAdjust="spacingAndGlyphs"  stroke="#000" stroke-width="0.35">30</text>
<text x="1424" y="804" font-size="10" fill="#000" font-weight="normal" text-anchor="start" textLength="6" lengthAdjust="spacingAndGlyphs"  stroke="#000" stroke-width="0.35">0</text>
<g shape-rendering="crispEdges">
<rect x="3" y="807" width="1" height="3" fill="#000" />
<rect x="67" y="807" width="1" height="3" fill="#000" />
<rect x="131" y="807" width="1" height="3" fill="#000" />
<rect x="195" y="807" width="1" height="3" fill="#000" />
<rect x="259" y="807" width="1" height="3" fill="#000" />
<rect x="323" y="807" width="1" height="3" fill="#000" />
<rect x="387" y="807" width="1" height="3" fill="#000" />
<rect x="451" y="807" width="1" height="3" fill="#000" />
<rect x="515" y="807" width="1" height="3" fill="#000" />
<rect x="579" y="807" width="1" height="3" fill="#000" />
<rect x="643" y="807" width="1" height="3" fill="#000" />
<rect x="707" y="807" width="1" height="3" fill="#000" />
<rect x="771" y="807" width="1" height="3" fill="#000" />
<rect x="835" y="807" width="1" height="3" fill="#000" />
<rect x="899" y="807" width="1" height="3" fill="#000" />
<rect x="963" y="807" width="1" height="3" fill="#000" />
<rect x="1027" y="807" width="1" height="3" fill="#000" />
<rect x="1091" y="807" width="1" height="3" fill="#000" />
</g>
<text x="2" y="819" font-size="10" fill="#000" font-weight="normal" text-anchor="start" textLength="50" lengthAdjust="spacingAndGlyphs"  stroke="#000" stroke-width="0.35">25 Oct 2018</text>
<text x="66" y="819" font-size="10" fill="#000" font-weight="normal" text-anchor="start" textLength="48" lengthAdjust="spacingAndGlyphs"  stroke="#000" stroke-width="0.35">6 Nov 2018</text>
<text x="130" y="819" font-size="10" fill="#000" font-weight="normal" text-anchor="start" textLength="52" lengthAdjust="spacingAndGlyphs"  stroke="#000" stroke-width="0.35">16 Nov 2018</text>
<text x="194" y="819" font-size="10" fill="#000" font-weight="normal" text-anchor="start" textLength="52" lengthAdjust="spacingAndGlyphs"  stroke="#000" stroke-width="0.35">28 Nov 2018</text>
<text x="258" y="819" font-size="10" fill="#000" font-weight="normal" text-anchor="start" textLength="51" lengthAdjust="spacingAndGlyphs"  stroke="#000" stroke-width="0.35">10 Dec 2018</text>
<text x="322" y="819" font-size="10" fill="#000" font-weight="normal" text-anchor="start" textLength="51" lengthAdjust="spacingAndGlyphs"  stroke="#000" stroke-width="0.35">20 Dec 2018</text>
<text x="386" y="819" font-size="10" fill="#000" font-weight="normal" text-anchor="start" textLength="45" lengthAdjust="spacingAndGlyphs"  stroke="#000" stroke-width="0.35">1 Jan 2019</text>
<text x="450" y="819" font-size="10" fill="#000" font-weight="normal" text-anchor="start" textLength="49" lengthAdjust="spacingAndGlyphs"  stroke="#000" stroke-width="0.35">11 Jan 2019</text>
<text x="514" y="819" font-size="10" fill="#000" font-weight="normal" text-anchor="start" textLength="49" lengthAdjust="spacingAndGlyphs"  stroke="#000" stroke-width="0.35">23 Jan 2019</text>
<text x="578" y="819" font-size="10" fill="#000" font-weight="normal" text-anchor="start" textLength="47" lengthAdjust="spacingAndGlyphs"  stroke="#000" stroke-width="0.35">4 Feb 2019</text>
<text x="642" y="819" font-size="10" fill="#000" font-weight="normal" text-anchor="start" textLength="51" lengthAdjust="spacingAndGlyphs"  stroke="#000" stroke-width="0.35">14 Feb 2019</text>
<text x="706" y="819" font-size="10" fill="#000" font-weight="normal" text-anchor="start" textLength="51" lengthAdjust="spacingAndGlyphs"  stroke="#000" stroke-width="0.35">26 Feb 2019</text>
<text x="770" y="819" font-size="10" fill="#000" font-weight="normal" text-anchor="start" textLength="47" lengthAdjust="spacingAndGlyphs"  stroke="#000" stroke-width="0.35">8 Mar 2019</text>
<text x="834" y="819" font-size="10" fill="#000" font-weight="normal" text-anchor="start" textLength="52" lengthAdjust="spacingAndGlyphs"  stroke="#000" stroke-width="0.35">20 Mar 2019</text>
<text x="898" y="819" font-size="10" fill="#000" font-weight="normal" text-anchor="start" textLength="46" lengthAdjust="spacingAndGlyphs"  stroke="#000" stroke-width="0.35">1 Apr 2019</text>
<text x="962" y="819" font-size="10" fill="#000" font-weight="normal" text-anchor="start" textLength="50" lengthAdjust="spacingAndGlyphs"  stroke="#000" stroke-width="0.35">11 Apr 2019</text>
<text x="1026" y="819" font-size="10" fill="#000" font-weight="normal" text-anchor="start" textLength="51" lengthAdjust="spacingAndGlyphs"  stroke="#000" stroke-width="0.35">24 Apr 2019</text>
<text x="1090" y="819" font-size="10" fill="#000" font-weight="normal" text-anchor="start" textLength="50" lengthAdjust="spacingAndGlyphs"  stroke="#000" stroke-width="0.35">6 May 2019</text>
<g shape-rendering="crispEdges">
<rect x="436" y="829" width="112" height="19" fill="#000" />
<rect x="437" y="828" width="110" height="19" fill="#FFFFFF" />
<rect x="435" y="830" width="1" height="18" fill="#FFFFFF" />
<rect x="112" y="833" width="1" height="13" fill="#808080" />
<rect x="220" y="833" width="1" height="13" fill="#808080" />
<rect x="327" y="833" width="1" height="13" fill="#808080" />
<rect x="668" y="833" width="1" height="13" fill="#808080" />
</g>
<text x="15" y="844" font-size="12" fill="#6E6E6E" font-weight="normal" text-anchor="start" textLength="85" lengthAdjust="spacingAndGlyphs" >EURUSD-,Daily</text>
<text x="122" y="844" font-size="12" fill="#6E6E6E" font-weight="normal" text-anchor="start" textLength="87" lengthAdjust="spacingAndGlyphs" >AUDUSD-,Daily</text>
<text x="232" y="844" font-size="12" fill="#6E6E6E" font-weight="normal" text-anchor="start" textLength="84" lengthAdjust="spacingAndGlyphs" >USDCHF-,Daily</text>
<text x="339" y="844" font-size="12" fill="#6E6E6E" font-weight="normal" text-anchor="start" textLength="86" lengthAdjust="spacingAndGlyphs" >USDCAD-,Daily</text>
<text x="448" y="844" font-size="12" fill="#000" font-weight="normal" text-anchor="start" textLength="88" lengthAdjust="spacingAndGlyphs" >USDCNH-,Daily</text>
<text x="560" y="844" font-size="12" fill="#6E6E6E" font-weight="normal" text-anchor="start" textLength="96" lengthAdjust="spacingAndGlyphs" >EURCHF-,Weekly</text>
<polygon points="1433.5,838 1437,834.5 1437,841.5" fill="#999999"/>
<polygon points="1456.5,838 1453,834.5 1453,841.5" fill="#999999"/>
<rect x="1419" y="324" width="39" height="10" fill="#000" />
<text x="1424" y="333" font-size="10" fill="#FFF" font-weight="normal" text-anchor="start" textLength="33" lengthAdjust="spacingAndGlyphs"  stroke="#FFF" stroke-width="0.35">6.80901</text>
</svg></body></html>
